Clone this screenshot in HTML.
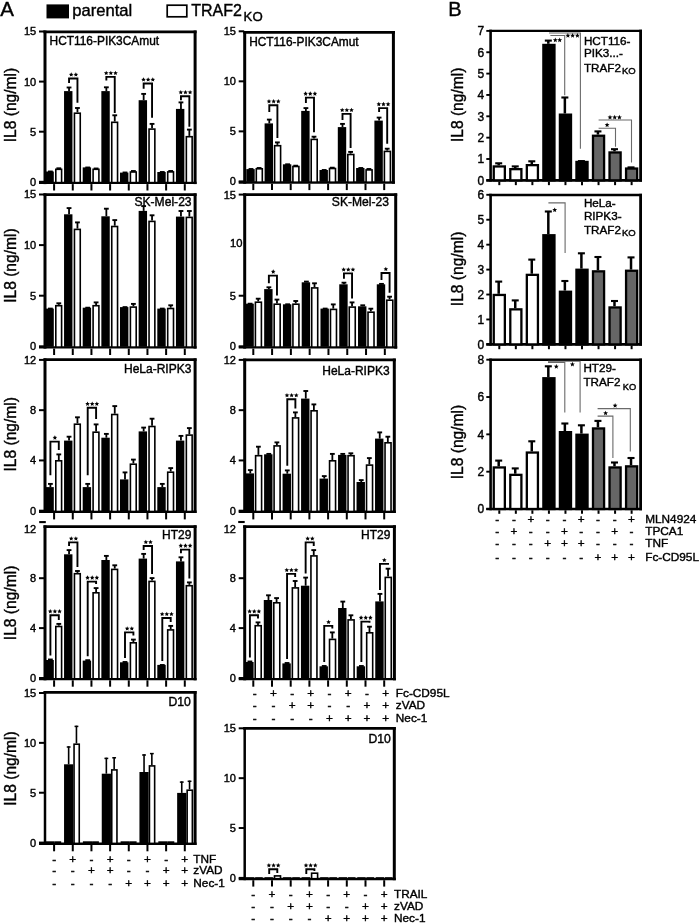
<!DOCTYPE html>
<html><head><meta charset="utf-8"><style>
html,body{margin:0;padding:0;background:#fff;}
svg{display:block;will-change:transform;}
text{font-family:"Liberation Sans", sans-serif;fill:#000;stroke:#000;stroke-width:0.4px;}
</style></head><body>
<svg width="700" height="923" viewBox="0 0 700 923">
<rect width="700" height="923" fill="#fff"/>
<line x1="45.00" y1="30.50" x2="45.00" y2="184.10" stroke="#000" stroke-width="3"/>
<line x1="43.50" y1="31.80" x2="196.60" y2="31.80" stroke="#000" stroke-width="2.7"/>
<line x1="195.10" y1="30.50" x2="195.10" y2="184.10" stroke="#000" stroke-width="3"/>
<line x1="39.00" y1="182.90" x2="196.60" y2="182.90" stroke="#000" stroke-width="2.4"/>
<line x1="39.00" y1="181.80" x2="44.50" y2="181.80" stroke="#000" stroke-width="2"/>
<text x="36.20" y="185.70" font-size="11" text-anchor="end" font-weight="normal" >0</text>
<line x1="39.00" y1="131.70" x2="44.50" y2="131.70" stroke="#000" stroke-width="2"/>
<text x="36.20" y="135.60" font-size="11" text-anchor="end" font-weight="normal" >5</text>
<line x1="39.00" y1="81.60" x2="44.50" y2="81.60" stroke="#000" stroke-width="2"/>
<text x="36.20" y="85.50" font-size="11" text-anchor="end" font-weight="normal" >10</text>
<line x1="39.00" y1="31.50" x2="44.50" y2="31.50" stroke="#000" stroke-width="2"/>
<text x="36.20" y="35.40" font-size="11" text-anchor="end" font-weight="normal" >15</text>
<line x1="54.10" y1="184.10" x2="54.10" y2="190.50" stroke="#000" stroke-width="2"/>
<line x1="72.77" y1="184.10" x2="72.77" y2="190.50" stroke="#000" stroke-width="2"/>
<line x1="91.44" y1="184.10" x2="91.44" y2="190.50" stroke="#000" stroke-width="2"/>
<line x1="110.11" y1="184.10" x2="110.11" y2="190.50" stroke="#000" stroke-width="2"/>
<line x1="128.78" y1="184.10" x2="128.78" y2="190.50" stroke="#000" stroke-width="2"/>
<line x1="147.45" y1="184.10" x2="147.45" y2="190.50" stroke="#000" stroke-width="2"/>
<line x1="166.12" y1="184.10" x2="166.12" y2="190.50" stroke="#000" stroke-width="2"/>
<line x1="184.79" y1="184.10" x2="184.79" y2="190.50" stroke="#000" stroke-width="2"/>
<rect x="45.40" y="171.50" width="8.40" height="10.80" fill="#000"/>
<line x1="50.40" y1="171.50" x2="50.40" y2="171.50" stroke="#000" stroke-width="1.8"/>
<line x1="48.00" y1="171.50" x2="52.80" y2="171.50" stroke="#000" stroke-width="1.9"/>
<rect x="55.80" y="169.30" width="5.80" height="13.30" fill="#fff" stroke="#000" stroke-width="1.6"/>
<line x1="58.80" y1="168.30" x2="58.80" y2="168.50" stroke="#000" stroke-width="1.8"/>
<line x1="56.40" y1="168.30" x2="61.20" y2="168.30" stroke="#000" stroke-width="1.9"/>
<rect x="64.05" y="91.10" width="8.40" height="91.20" fill="#000"/>
<line x1="69.05" y1="87.50" x2="69.05" y2="91.10" stroke="#000" stroke-width="1.8"/>
<line x1="66.65" y1="87.50" x2="71.45" y2="87.50" stroke="#000" stroke-width="1.9"/>
<rect x="74.45" y="113.20" width="5.80" height="69.40" fill="#fff" stroke="#000" stroke-width="1.6"/>
<line x1="77.45" y1="108.00" x2="77.45" y2="112.40" stroke="#000" stroke-width="1.8"/>
<line x1="75.05" y1="108.00" x2="79.85" y2="108.00" stroke="#000" stroke-width="1.9"/>
<rect x="82.70" y="167.40" width="8.40" height="14.90" fill="#000"/>
<line x1="87.70" y1="167.50" x2="87.70" y2="167.40" stroke="#000" stroke-width="1.8"/>
<line x1="85.30" y1="167.50" x2="90.10" y2="167.50" stroke="#000" stroke-width="1.9"/>
<rect x="93.10" y="169.30" width="5.80" height="13.30" fill="#fff" stroke="#000" stroke-width="1.6"/>
<line x1="96.10" y1="168.50" x2="96.10" y2="168.50" stroke="#000" stroke-width="1.8"/>
<line x1="93.70" y1="168.50" x2="98.50" y2="168.50" stroke="#000" stroke-width="1.9"/>
<rect x="101.35" y="91.10" width="8.40" height="91.20" fill="#000"/>
<line x1="106.35" y1="87.30" x2="106.35" y2="91.10" stroke="#000" stroke-width="1.8"/>
<line x1="103.95" y1="87.30" x2="108.75" y2="87.30" stroke="#000" stroke-width="1.9"/>
<rect x="111.75" y="122.30" width="5.80" height="60.30" fill="#fff" stroke="#000" stroke-width="1.6"/>
<line x1="114.75" y1="115.30" x2="114.75" y2="121.50" stroke="#000" stroke-width="1.8"/>
<line x1="112.35" y1="115.30" x2="117.15" y2="115.30" stroke="#000" stroke-width="1.9"/>
<rect x="120.00" y="172.60" width="8.40" height="9.70" fill="#000"/>
<line x1="125.00" y1="172.50" x2="125.00" y2="172.60" stroke="#000" stroke-width="1.8"/>
<line x1="122.60" y1="172.50" x2="127.40" y2="172.50" stroke="#000" stroke-width="1.9"/>
<rect x="130.40" y="172.00" width="5.80" height="10.60" fill="#fff" stroke="#000" stroke-width="1.6"/>
<line x1="133.40" y1="171.00" x2="133.40" y2="171.20" stroke="#000" stroke-width="1.8"/>
<line x1="131.00" y1="171.00" x2="135.80" y2="171.00" stroke="#000" stroke-width="1.9"/>
<rect x="138.65" y="100.20" width="8.40" height="82.10" fill="#000"/>
<line x1="143.65" y1="93.90" x2="143.65" y2="100.20" stroke="#000" stroke-width="1.8"/>
<line x1="141.25" y1="93.90" x2="146.05" y2="93.90" stroke="#000" stroke-width="1.9"/>
<rect x="149.05" y="129.10" width="5.80" height="53.50" fill="#fff" stroke="#000" stroke-width="1.6"/>
<line x1="152.05" y1="123.90" x2="152.05" y2="128.30" stroke="#000" stroke-width="1.8"/>
<line x1="149.65" y1="123.90" x2="154.45" y2="123.90" stroke="#000" stroke-width="1.9"/>
<rect x="157.30" y="172.00" width="8.40" height="10.30" fill="#000"/>
<line x1="162.30" y1="172.00" x2="162.30" y2="172.00" stroke="#000" stroke-width="1.8"/>
<line x1="159.90" y1="172.00" x2="164.70" y2="172.00" stroke="#000" stroke-width="1.9"/>
<rect x="167.70" y="171.90" width="5.80" height="10.70" fill="#fff" stroke="#000" stroke-width="1.6"/>
<line x1="170.70" y1="171.00" x2="170.70" y2="171.10" stroke="#000" stroke-width="1.8"/>
<line x1="168.30" y1="171.00" x2="173.10" y2="171.00" stroke="#000" stroke-width="1.9"/>
<rect x="175.95" y="108.90" width="8.40" height="73.40" fill="#000"/>
<line x1="180.95" y1="102.40" x2="180.95" y2="108.90" stroke="#000" stroke-width="1.8"/>
<line x1="178.55" y1="102.40" x2="183.35" y2="102.40" stroke="#000" stroke-width="1.9"/>
<rect x="186.35" y="136.70" width="5.80" height="45.90" fill="#fff" stroke="#000" stroke-width="1.6"/>
<line x1="189.35" y1="129.60" x2="189.35" y2="135.90" stroke="#000" stroke-width="1.8"/>
<line x1="186.95" y1="129.60" x2="191.75" y2="129.60" stroke="#000" stroke-width="1.9"/>
<polyline points="69.05,82.90 69.05,78.50 77.45,78.50 77.45,102.70" fill="none" stroke="#000" stroke-width="1.9"/>
<polygon points="71.22,72.26 71.90,73.73 73.51,73.92 72.32,75.01 72.64,76.60 71.22,75.81 69.81,76.60 70.13,75.01 68.94,73.92 70.55,73.73" fill="#000"/>
<polygon points="75.88,72.26 76.55,73.73 78.16,73.92 76.97,75.01 77.29,76.60 75.88,75.81 74.46,76.60 74.78,75.01 73.59,73.92 75.20,73.73" fill="#000"/>
<polyline points="106.35,80.50 106.35,76.90 114.75,76.90 114.75,113.10" fill="none" stroke="#000" stroke-width="1.9"/>
<polygon points="106.20,70.66 106.88,72.13 108.48,72.32 107.30,73.41 107.61,75.00 106.20,74.21 104.79,75.00 105.10,73.41 103.92,72.32 105.52,72.13" fill="#000"/>
<polygon points="110.85,70.66 111.53,72.13 113.13,72.32 111.95,73.41 112.26,75.00 110.85,74.21 109.44,75.00 109.75,73.41 108.57,72.32 110.17,72.13" fill="#000"/>
<polygon points="115.50,70.66 116.18,72.13 117.78,72.32 116.60,73.41 116.91,75.00 115.50,74.21 114.09,75.00 114.40,73.41 113.22,72.32 114.82,72.13" fill="#000"/>
<polyline points="143.65,88.80 143.65,83.50 152.05,83.50 152.05,117.70" fill="none" stroke="#000" stroke-width="1.9"/>
<polygon points="143.50,77.26 144.18,78.73 145.78,78.92 144.60,80.01 144.91,81.60 143.50,80.81 142.09,81.60 142.40,80.01 141.22,78.92 142.82,78.73" fill="#000"/>
<polygon points="148.15,77.26 148.83,78.73 150.43,78.92 149.25,80.01 149.56,81.60 148.15,80.81 146.74,81.60 147.05,80.01 145.87,78.92 147.47,78.73" fill="#000"/>
<polygon points="152.80,77.26 153.48,78.73 155.08,78.92 153.90,80.01 154.21,81.60 152.80,80.81 151.39,81.60 151.70,80.01 150.52,78.92 152.12,78.73" fill="#000"/>
<polyline points="180.95,100.20 180.95,96.20 189.35,96.20 189.35,126.80" fill="none" stroke="#000" stroke-width="1.9"/>
<polygon points="180.80,89.96 181.48,91.43 183.08,91.62 181.90,92.71 182.21,94.30 180.80,93.51 179.39,94.30 179.70,92.71 178.52,91.62 180.12,91.43" fill="#000"/>
<polygon points="185.45,89.96 186.13,91.43 187.73,91.62 186.55,92.71 186.86,94.30 185.45,93.51 184.04,94.30 184.35,92.71 183.17,91.62 184.77,91.43" fill="#000"/>
<polygon points="190.10,89.96 190.78,91.43 192.38,91.62 191.20,92.71 191.51,94.30 190.10,93.51 188.69,94.30 189.00,92.71 187.82,91.62 189.42,91.43" fill="#000"/>
<text x="49.60" y="44.90" font-size="11.9" text-anchor="start" font-weight="normal" >HCT116-PIK3CAmut</text>
<line x1="244.70" y1="31.00" x2="244.70" y2="183.70" stroke="#000" stroke-width="3"/>
<line x1="243.20" y1="32.30" x2="394.90" y2="32.30" stroke="#000" stroke-width="2.7"/>
<line x1="393.40" y1="31.00" x2="393.40" y2="183.70" stroke="#000" stroke-width="3"/>
<line x1="238.70" y1="182.50" x2="394.90" y2="182.50" stroke="#000" stroke-width="2.4"/>
<line x1="238.70" y1="181.40" x2="244.20" y2="181.40" stroke="#000" stroke-width="2"/>
<text x="235.90" y="185.30" font-size="11" text-anchor="end" font-weight="normal" >0</text>
<line x1="238.70" y1="131.37" x2="244.20" y2="131.37" stroke="#000" stroke-width="2"/>
<text x="235.90" y="135.27" font-size="11" text-anchor="end" font-weight="normal" >5</text>
<line x1="238.70" y1="81.33" x2="244.20" y2="81.33" stroke="#000" stroke-width="2"/>
<text x="235.90" y="85.23" font-size="11" text-anchor="end" font-weight="normal" >10</text>
<line x1="238.70" y1="31.30" x2="244.20" y2="31.30" stroke="#000" stroke-width="2"/>
<text x="235.90" y="35.20" font-size="11" text-anchor="end" font-weight="normal" >15</text>
<line x1="253.30" y1="183.70" x2="253.30" y2="190.10" stroke="#000" stroke-width="2"/>
<line x1="272.00" y1="183.70" x2="272.00" y2="190.10" stroke="#000" stroke-width="2"/>
<line x1="290.70" y1="183.70" x2="290.70" y2="190.10" stroke="#000" stroke-width="2"/>
<line x1="309.40" y1="183.70" x2="309.40" y2="190.10" stroke="#000" stroke-width="2"/>
<line x1="328.10" y1="183.70" x2="328.10" y2="190.10" stroke="#000" stroke-width="2"/>
<line x1="346.80" y1="183.70" x2="346.80" y2="190.10" stroke="#000" stroke-width="2"/>
<line x1="365.50" y1="183.70" x2="365.50" y2="190.10" stroke="#000" stroke-width="2"/>
<line x1="384.20" y1="183.70" x2="384.20" y2="190.10" stroke="#000" stroke-width="2"/>
<rect x="246.30" y="169.10" width="8.40" height="12.80" fill="#000"/>
<line x1="251.00" y1="169.00" x2="251.00" y2="169.10" stroke="#000" stroke-width="1.8"/>
<line x1="248.60" y1="169.00" x2="253.40" y2="169.00" stroke="#000" stroke-width="1.9"/>
<rect x="256.30" y="168.80" width="6.00" height="13.40" fill="#fff" stroke="#000" stroke-width="1.6"/>
<line x1="259.10" y1="168.00" x2="259.10" y2="168.00" stroke="#000" stroke-width="1.8"/>
<line x1="256.70" y1="168.00" x2="261.50" y2="168.00" stroke="#000" stroke-width="1.9"/>
<rect x="264.60" y="123.40" width="8.40" height="58.50" fill="#000"/>
<line x1="269.30" y1="119.60" x2="269.30" y2="123.40" stroke="#000" stroke-width="1.8"/>
<line x1="266.90" y1="119.60" x2="271.70" y2="119.60" stroke="#000" stroke-width="1.9"/>
<rect x="274.60" y="145.70" width="6.00" height="36.50" fill="#fff" stroke="#000" stroke-width="1.6"/>
<line x1="277.40" y1="142.40" x2="277.40" y2="144.90" stroke="#000" stroke-width="1.8"/>
<line x1="275.00" y1="142.40" x2="279.80" y2="142.40" stroke="#000" stroke-width="1.9"/>
<rect x="282.90" y="164.30" width="8.40" height="17.60" fill="#000"/>
<line x1="287.60" y1="164.30" x2="287.60" y2="164.30" stroke="#000" stroke-width="1.8"/>
<line x1="285.20" y1="164.30" x2="290.00" y2="164.30" stroke="#000" stroke-width="1.9"/>
<rect x="292.90" y="166.50" width="6.00" height="15.70" fill="#fff" stroke="#000" stroke-width="1.6"/>
<line x1="295.70" y1="165.70" x2="295.70" y2="165.70" stroke="#000" stroke-width="1.8"/>
<line x1="293.30" y1="165.70" x2="298.10" y2="165.70" stroke="#000" stroke-width="1.9"/>
<rect x="301.20" y="110.90" width="8.40" height="71.00" fill="#000"/>
<line x1="305.90" y1="108.10" x2="305.90" y2="110.90" stroke="#000" stroke-width="1.8"/>
<line x1="303.50" y1="108.10" x2="308.30" y2="108.10" stroke="#000" stroke-width="1.9"/>
<rect x="311.20" y="139.40" width="6.00" height="42.80" fill="#fff" stroke="#000" stroke-width="1.6"/>
<line x1="314.00" y1="136.70" x2="314.00" y2="138.60" stroke="#000" stroke-width="1.8"/>
<line x1="311.60" y1="136.70" x2="316.40" y2="136.70" stroke="#000" stroke-width="1.9"/>
<rect x="319.50" y="170.00" width="8.40" height="11.90" fill="#000"/>
<line x1="324.20" y1="170.00" x2="324.20" y2="170.00" stroke="#000" stroke-width="1.8"/>
<line x1="321.80" y1="170.00" x2="326.60" y2="170.00" stroke="#000" stroke-width="1.9"/>
<rect x="329.50" y="168.50" width="6.00" height="13.70" fill="#fff" stroke="#000" stroke-width="1.6"/>
<line x1="332.30" y1="167.70" x2="332.30" y2="167.70" stroke="#000" stroke-width="1.8"/>
<line x1="329.90" y1="167.70" x2="334.70" y2="167.70" stroke="#000" stroke-width="1.9"/>
<rect x="337.80" y="127.10" width="8.40" height="54.80" fill="#000"/>
<line x1="342.50" y1="123.90" x2="342.50" y2="127.10" stroke="#000" stroke-width="1.8"/>
<line x1="340.10" y1="123.90" x2="344.90" y2="123.90" stroke="#000" stroke-width="1.9"/>
<rect x="347.80" y="154.50" width="6.00" height="27.70" fill="#fff" stroke="#000" stroke-width="1.6"/>
<line x1="350.60" y1="151.90" x2="350.60" y2="153.70" stroke="#000" stroke-width="1.8"/>
<line x1="348.20" y1="151.90" x2="353.00" y2="151.90" stroke="#000" stroke-width="1.9"/>
<rect x="356.10" y="168.00" width="8.40" height="13.90" fill="#000"/>
<line x1="360.80" y1="168.00" x2="360.80" y2="168.00" stroke="#000" stroke-width="1.8"/>
<line x1="358.40" y1="168.00" x2="363.20" y2="168.00" stroke="#000" stroke-width="1.9"/>
<rect x="366.10" y="169.90" width="6.00" height="12.30" fill="#fff" stroke="#000" stroke-width="1.6"/>
<line x1="368.90" y1="169.00" x2="368.90" y2="169.10" stroke="#000" stroke-width="1.8"/>
<line x1="366.50" y1="169.00" x2="371.30" y2="169.00" stroke="#000" stroke-width="1.9"/>
<rect x="374.40" y="120.60" width="8.40" height="61.30" fill="#000"/>
<line x1="379.10" y1="117.60" x2="379.10" y2="120.60" stroke="#000" stroke-width="1.8"/>
<line x1="376.70" y1="117.60" x2="381.50" y2="117.60" stroke="#000" stroke-width="1.9"/>
<rect x="384.40" y="151.40" width="6.00" height="30.80" fill="#fff" stroke="#000" stroke-width="1.6"/>
<line x1="387.20" y1="148.70" x2="387.20" y2="150.60" stroke="#000" stroke-width="1.8"/>
<line x1="384.80" y1="148.70" x2="389.60" y2="148.70" stroke="#000" stroke-width="1.9"/>
<polyline points="269.30,112.00 269.30,105.30 277.40,105.30 277.40,138.00" fill="none" stroke="#000" stroke-width="1.9"/>
<polygon points="269.00,99.06 269.68,100.53 271.28,100.72 270.10,101.81 270.41,103.40 269.00,102.61 267.59,103.40 267.90,101.81 266.72,100.72 268.32,100.53" fill="#000"/>
<polygon points="273.65,99.06 274.33,100.53 275.93,100.72 274.75,101.81 275.06,103.40 273.65,102.61 272.24,103.40 272.55,101.81 271.37,100.72 272.97,100.53" fill="#000"/>
<polygon points="278.30,99.06 278.98,100.53 280.58,100.72 279.40,101.81 279.71,103.40 278.30,102.61 276.89,103.40 277.20,101.81 276.02,100.72 277.62,100.53" fill="#000"/>
<polyline points="305.90,102.90 305.90,97.60 314.00,97.60 314.00,132.30" fill="none" stroke="#000" stroke-width="1.9"/>
<polygon points="305.60,91.36 306.28,92.83 307.88,93.02 306.70,94.11 307.01,95.70 305.60,94.91 304.19,95.70 304.50,94.11 303.32,93.02 304.92,92.83" fill="#000"/>
<polygon points="310.25,91.36 310.93,92.83 312.53,93.02 311.35,94.11 311.66,95.70 310.25,94.91 308.84,95.70 309.15,94.11 307.97,93.02 309.57,92.83" fill="#000"/>
<polygon points="314.90,91.36 315.58,92.83 317.18,93.02 316.00,94.11 316.31,95.70 314.90,94.91 313.49,95.70 313.80,94.11 312.62,93.02 314.22,92.83" fill="#000"/>
<polyline points="342.50,120.00 342.50,113.90 350.60,113.90 350.60,148.00" fill="none" stroke="#000" stroke-width="1.9"/>
<polygon points="342.20,107.66 342.88,109.13 344.48,109.32 343.30,110.41 343.61,112.00 342.20,111.21 340.79,112.00 341.10,110.41 339.92,109.32 341.52,109.13" fill="#000"/>
<polygon points="346.85,107.66 347.53,109.13 349.13,109.32 347.95,110.41 348.26,112.00 346.85,111.21 345.44,112.00 345.75,110.41 344.57,109.32 346.17,109.13" fill="#000"/>
<polygon points="351.50,107.66 352.18,109.13 353.78,109.32 352.60,110.41 352.91,112.00 351.50,111.21 350.09,112.00 350.40,110.41 349.22,109.32 350.82,109.13" fill="#000"/>
<polyline points="379.10,112.00 379.10,108.10 387.20,108.10 387.20,143.70" fill="none" stroke="#000" stroke-width="1.9"/>
<polygon points="378.80,101.86 379.48,103.33 381.08,103.52 379.90,104.61 380.21,106.20 378.80,105.41 377.39,106.20 377.70,104.61 376.52,103.52 378.12,103.33" fill="#000"/>
<polygon points="383.45,101.86 384.13,103.33 385.73,103.52 384.55,104.61 384.86,106.20 383.45,105.41 382.04,106.20 382.35,104.61 381.17,103.52 382.77,103.33" fill="#000"/>
<polygon points="388.10,101.86 388.78,103.33 390.38,103.52 389.20,104.61 389.51,106.20 388.10,105.41 386.69,106.20 387.00,104.61 385.82,103.52 387.42,103.33" fill="#000"/>
<text x="249.20" y="45.70" font-size="11.9" text-anchor="start" font-weight="normal" >HCT116-PIK3CAmut</text>
<line x1="45.00" y1="193.40" x2="45.00" y2="348.60" stroke="#000" stroke-width="3"/>
<line x1="43.50" y1="194.70" x2="196.60" y2="194.70" stroke="#000" stroke-width="2.7"/>
<line x1="195.10" y1="193.40" x2="195.10" y2="348.60" stroke="#000" stroke-width="3"/>
<line x1="39.00" y1="347.40" x2="196.60" y2="347.40" stroke="#000" stroke-width="2.4"/>
<line x1="39.00" y1="346.30" x2="44.50" y2="346.30" stroke="#000" stroke-width="2"/>
<text x="36.20" y="350.20" font-size="11" text-anchor="end" font-weight="normal" >0</text>
<line x1="39.00" y1="295.70" x2="44.50" y2="295.70" stroke="#000" stroke-width="2"/>
<text x="36.20" y="299.60" font-size="11" text-anchor="end" font-weight="normal" >5</text>
<line x1="39.00" y1="245.10" x2="44.50" y2="245.10" stroke="#000" stroke-width="2"/>
<text x="36.20" y="249.00" font-size="11" text-anchor="end" font-weight="normal" >10</text>
<line x1="39.00" y1="194.50" x2="44.50" y2="194.50" stroke="#000" stroke-width="2"/>
<text x="36.20" y="198.40" font-size="11" text-anchor="end" font-weight="normal" >15</text>
<line x1="54.10" y1="348.60" x2="54.10" y2="355.00" stroke="#000" stroke-width="2"/>
<line x1="72.77" y1="348.60" x2="72.77" y2="355.00" stroke="#000" stroke-width="2"/>
<line x1="91.44" y1="348.60" x2="91.44" y2="355.00" stroke="#000" stroke-width="2"/>
<line x1="110.11" y1="348.60" x2="110.11" y2="355.00" stroke="#000" stroke-width="2"/>
<line x1="128.78" y1="348.60" x2="128.78" y2="355.00" stroke="#000" stroke-width="2"/>
<line x1="147.45" y1="348.60" x2="147.45" y2="355.00" stroke="#000" stroke-width="2"/>
<line x1="166.12" y1="348.60" x2="166.12" y2="355.00" stroke="#000" stroke-width="2"/>
<line x1="184.79" y1="348.60" x2="184.79" y2="355.00" stroke="#000" stroke-width="2"/>
<rect x="45.40" y="308.60" width="8.40" height="38.20" fill="#000"/>
<line x1="50.40" y1="308.60" x2="50.40" y2="308.60" stroke="#000" stroke-width="1.8"/>
<line x1="48.00" y1="308.60" x2="52.80" y2="308.60" stroke="#000" stroke-width="1.9"/>
<rect x="55.80" y="305.70" width="5.80" height="41.40" fill="#fff" stroke="#000" stroke-width="1.6"/>
<line x1="58.80" y1="303.30" x2="58.80" y2="304.90" stroke="#000" stroke-width="1.8"/>
<line x1="56.40" y1="303.30" x2="61.20" y2="303.30" stroke="#000" stroke-width="1.9"/>
<rect x="64.05" y="214.30" width="8.40" height="132.50" fill="#000"/>
<line x1="69.05" y1="208.10" x2="69.05" y2="214.30" stroke="#000" stroke-width="1.8"/>
<line x1="66.65" y1="208.10" x2="71.45" y2="208.10" stroke="#000" stroke-width="1.9"/>
<rect x="74.45" y="229.40" width="5.80" height="117.70" fill="#fff" stroke="#000" stroke-width="1.6"/>
<line x1="77.45" y1="222.40" x2="77.45" y2="228.60" stroke="#000" stroke-width="1.8"/>
<line x1="75.05" y1="222.40" x2="79.85" y2="222.40" stroke="#000" stroke-width="1.9"/>
<rect x="82.70" y="307.70" width="8.40" height="39.10" fill="#000"/>
<line x1="87.70" y1="307.70" x2="87.70" y2="307.70" stroke="#000" stroke-width="1.8"/>
<line x1="85.30" y1="307.70" x2="90.10" y2="307.70" stroke="#000" stroke-width="1.9"/>
<rect x="93.10" y="305.70" width="5.80" height="41.40" fill="#fff" stroke="#000" stroke-width="1.6"/>
<line x1="96.10" y1="302.40" x2="96.10" y2="304.90" stroke="#000" stroke-width="1.8"/>
<line x1="93.70" y1="302.40" x2="98.50" y2="302.40" stroke="#000" stroke-width="1.9"/>
<rect x="101.35" y="216.30" width="8.40" height="130.50" fill="#000"/>
<line x1="106.35" y1="208.70" x2="106.35" y2="216.30" stroke="#000" stroke-width="1.8"/>
<line x1="103.95" y1="208.70" x2="108.75" y2="208.70" stroke="#000" stroke-width="1.9"/>
<rect x="111.75" y="226.50" width="5.80" height="120.60" fill="#fff" stroke="#000" stroke-width="1.6"/>
<line x1="114.75" y1="220.10" x2="114.75" y2="225.70" stroke="#000" stroke-width="1.8"/>
<line x1="112.35" y1="220.10" x2="117.15" y2="220.10" stroke="#000" stroke-width="1.9"/>
<rect x="120.00" y="307.10" width="8.40" height="39.70" fill="#000"/>
<line x1="125.00" y1="307.10" x2="125.00" y2="307.10" stroke="#000" stroke-width="1.8"/>
<line x1="122.60" y1="307.10" x2="127.40" y2="307.10" stroke="#000" stroke-width="1.9"/>
<rect x="130.40" y="307.10" width="5.80" height="40.00" fill="#fff" stroke="#000" stroke-width="1.6"/>
<line x1="133.40" y1="303.90" x2="133.40" y2="306.30" stroke="#000" stroke-width="1.8"/>
<line x1="131.00" y1="303.90" x2="135.80" y2="303.90" stroke="#000" stroke-width="1.9"/>
<rect x="138.65" y="210.90" width="8.40" height="135.90" fill="#000"/>
<line x1="143.65" y1="206.10" x2="143.65" y2="210.90" stroke="#000" stroke-width="1.8"/>
<line x1="141.25" y1="206.10" x2="146.05" y2="206.10" stroke="#000" stroke-width="1.9"/>
<rect x="149.05" y="221.40" width="5.80" height="125.70" fill="#fff" stroke="#000" stroke-width="1.6"/>
<line x1="152.05" y1="215.30" x2="152.05" y2="220.60" stroke="#000" stroke-width="1.8"/>
<line x1="149.65" y1="215.30" x2="154.45" y2="215.30" stroke="#000" stroke-width="1.9"/>
<rect x="157.30" y="308.60" width="8.40" height="38.20" fill="#000"/>
<line x1="162.30" y1="308.60" x2="162.30" y2="308.60" stroke="#000" stroke-width="1.8"/>
<line x1="159.90" y1="308.60" x2="164.70" y2="308.60" stroke="#000" stroke-width="1.9"/>
<rect x="167.70" y="308.50" width="5.80" height="38.60" fill="#fff" stroke="#000" stroke-width="1.6"/>
<line x1="170.70" y1="305.30" x2="170.70" y2="307.70" stroke="#000" stroke-width="1.8"/>
<line x1="168.30" y1="305.30" x2="173.10" y2="305.30" stroke="#000" stroke-width="1.9"/>
<rect x="175.95" y="216.60" width="8.40" height="130.20" fill="#000"/>
<line x1="180.95" y1="211.00" x2="180.95" y2="216.60" stroke="#000" stroke-width="1.8"/>
<line x1="178.55" y1="211.00" x2="183.35" y2="211.00" stroke="#000" stroke-width="1.9"/>
<rect x="186.35" y="217.40" width="5.80" height="129.70" fill="#fff" stroke="#000" stroke-width="1.6"/>
<line x1="189.35" y1="211.00" x2="189.35" y2="216.60" stroke="#000" stroke-width="1.8"/>
<line x1="186.95" y1="211.00" x2="191.75" y2="211.00" stroke="#000" stroke-width="1.9"/>
<text x="191.60" y="205.60" font-size="12.1" text-anchor="end" font-weight="normal" >SK-Mel-23</text>
<line x1="244.70" y1="193.40" x2="244.70" y2="348.60" stroke="#000" stroke-width="3"/>
<line x1="243.20" y1="194.70" x2="397.20" y2="194.70" stroke="#000" stroke-width="2.7"/>
<line x1="395.70" y1="193.40" x2="395.70" y2="348.60" stroke="#000" stroke-width="3"/>
<line x1="238.70" y1="347.40" x2="397.20" y2="347.40" stroke="#000" stroke-width="2.4"/>
<line x1="238.70" y1="346.30" x2="244.20" y2="346.30" stroke="#000" stroke-width="2"/>
<text x="235.90" y="350.20" font-size="11" text-anchor="end" font-weight="normal" >0</text>
<line x1="238.70" y1="295.73" x2="244.20" y2="295.73" stroke="#000" stroke-width="2"/>
<text x="235.90" y="299.63" font-size="11" text-anchor="end" font-weight="normal" >5</text>
<line x1="238.70" y1="194.60" x2="244.20" y2="194.60" stroke="#000" stroke-width="2"/>
<text x="235.90" y="198.50" font-size="11" text-anchor="end" font-weight="normal" >15</text>
<line x1="253.30" y1="348.60" x2="253.30" y2="355.00" stroke="#000" stroke-width="2"/>
<line x1="272.09" y1="348.60" x2="272.09" y2="355.00" stroke="#000" stroke-width="2"/>
<line x1="290.88" y1="348.60" x2="290.88" y2="355.00" stroke="#000" stroke-width="2"/>
<line x1="309.67" y1="348.60" x2="309.67" y2="355.00" stroke="#000" stroke-width="2"/>
<line x1="328.46" y1="348.60" x2="328.46" y2="355.00" stroke="#000" stroke-width="2"/>
<line x1="347.25" y1="348.60" x2="347.25" y2="355.00" stroke="#000" stroke-width="2"/>
<line x1="366.04" y1="348.60" x2="366.04" y2="355.00" stroke="#000" stroke-width="2"/>
<line x1="384.83" y1="348.60" x2="384.83" y2="355.00" stroke="#000" stroke-width="2"/>
<rect x="245.40" y="303.70" width="8.40" height="43.10" fill="#000"/>
<line x1="250.10" y1="303.70" x2="250.10" y2="303.70" stroke="#000" stroke-width="1.8"/>
<line x1="247.70" y1="303.70" x2="252.50" y2="303.70" stroke="#000" stroke-width="1.9"/>
<rect x="255.40" y="302.20" width="6.00" height="44.90" fill="#fff" stroke="#000" stroke-width="1.6"/>
<line x1="258.20" y1="298.70" x2="258.20" y2="301.40" stroke="#000" stroke-width="1.8"/>
<line x1="255.80" y1="298.70" x2="260.60" y2="298.70" stroke="#000" stroke-width="1.9"/>
<rect x="264.17" y="289.10" width="8.40" height="57.70" fill="#000"/>
<line x1="268.87" y1="287.30" x2="268.87" y2="289.10" stroke="#000" stroke-width="1.8"/>
<line x1="266.47" y1="287.30" x2="271.27" y2="287.30" stroke="#000" stroke-width="1.9"/>
<rect x="274.17" y="304.20" width="6.00" height="42.90" fill="#fff" stroke="#000" stroke-width="1.6"/>
<line x1="276.97" y1="299.60" x2="276.97" y2="303.40" stroke="#000" stroke-width="1.8"/>
<line x1="274.57" y1="299.60" x2="279.37" y2="299.60" stroke="#000" stroke-width="1.9"/>
<rect x="282.94" y="304.30" width="8.40" height="42.50" fill="#000"/>
<line x1="287.64" y1="304.30" x2="287.64" y2="304.30" stroke="#000" stroke-width="1.8"/>
<line x1="285.24" y1="304.30" x2="290.04" y2="304.30" stroke="#000" stroke-width="1.9"/>
<rect x="292.94" y="304.20" width="6.00" height="42.90" fill="#fff" stroke="#000" stroke-width="1.6"/>
<line x1="295.74" y1="301.00" x2="295.74" y2="303.40" stroke="#000" stroke-width="1.8"/>
<line x1="293.34" y1="301.00" x2="298.14" y2="301.00" stroke="#000" stroke-width="1.9"/>
<rect x="301.71" y="282.30" width="8.40" height="64.50" fill="#000"/>
<line x1="306.41" y1="281.60" x2="306.41" y2="282.30" stroke="#000" stroke-width="1.8"/>
<line x1="304.01" y1="281.60" x2="308.81" y2="281.60" stroke="#000" stroke-width="1.9"/>
<rect x="311.71" y="287.90" width="6.00" height="59.20" fill="#fff" stroke="#000" stroke-width="1.6"/>
<line x1="314.51" y1="283.30" x2="314.51" y2="287.10" stroke="#000" stroke-width="1.8"/>
<line x1="312.11" y1="283.30" x2="316.91" y2="283.30" stroke="#000" stroke-width="1.9"/>
<rect x="320.48" y="308.60" width="8.40" height="38.20" fill="#000"/>
<line x1="325.18" y1="308.60" x2="325.18" y2="308.60" stroke="#000" stroke-width="1.8"/>
<line x1="322.78" y1="308.60" x2="327.58" y2="308.60" stroke="#000" stroke-width="1.9"/>
<rect x="330.48" y="309.40" width="6.00" height="37.70" fill="#fff" stroke="#000" stroke-width="1.6"/>
<line x1="333.28" y1="304.40" x2="333.28" y2="308.60" stroke="#000" stroke-width="1.8"/>
<line x1="330.88" y1="304.40" x2="335.68" y2="304.40" stroke="#000" stroke-width="1.9"/>
<rect x="339.25" y="284.30" width="8.40" height="62.50" fill="#000"/>
<line x1="343.95" y1="282.70" x2="343.95" y2="284.30" stroke="#000" stroke-width="1.8"/>
<line x1="341.55" y1="282.70" x2="346.35" y2="282.70" stroke="#000" stroke-width="1.9"/>
<rect x="349.25" y="307.10" width="6.00" height="40.00" fill="#fff" stroke="#000" stroke-width="1.6"/>
<line x1="352.05" y1="302.40" x2="352.05" y2="306.30" stroke="#000" stroke-width="1.8"/>
<line x1="349.65" y1="302.40" x2="354.45" y2="302.40" stroke="#000" stroke-width="1.9"/>
<rect x="358.02" y="306.30" width="8.40" height="40.50" fill="#000"/>
<line x1="362.72" y1="305.30" x2="362.72" y2="306.30" stroke="#000" stroke-width="1.8"/>
<line x1="360.32" y1="305.30" x2="365.12" y2="305.30" stroke="#000" stroke-width="1.9"/>
<rect x="368.02" y="312.20" width="6.00" height="34.90" fill="#fff" stroke="#000" stroke-width="1.6"/>
<line x1="370.82" y1="308.70" x2="370.82" y2="311.40" stroke="#000" stroke-width="1.8"/>
<line x1="368.42" y1="308.70" x2="373.22" y2="308.70" stroke="#000" stroke-width="1.9"/>
<rect x="376.79" y="284.30" width="8.40" height="62.50" fill="#000"/>
<line x1="381.49" y1="283.90" x2="381.49" y2="284.30" stroke="#000" stroke-width="1.8"/>
<line x1="379.09" y1="283.90" x2="383.89" y2="283.90" stroke="#000" stroke-width="1.9"/>
<rect x="386.79" y="300.20" width="6.00" height="46.90" fill="#fff" stroke="#000" stroke-width="1.6"/>
<line x1="389.59" y1="296.70" x2="389.59" y2="299.40" stroke="#000" stroke-width="1.8"/>
<line x1="387.19" y1="296.70" x2="391.99" y2="296.70" stroke="#000" stroke-width="1.9"/>
<polyline points="268.87,283.30 268.87,275.60 276.97,275.60 276.97,295.60" fill="none" stroke="#000" stroke-width="1.9"/>
<polygon points="273.22,269.36 273.90,270.83 275.50,271.02 274.32,272.11 274.63,273.70 273.22,272.91 271.81,273.70 272.12,272.11 270.94,271.02 272.54,270.83" fill="#000"/>
<polyline points="343.95,278.70 343.95,273.40 352.05,273.40 352.05,298.40" fill="none" stroke="#000" stroke-width="1.9"/>
<polygon points="343.65,267.16 344.33,268.63 345.93,268.82 344.75,269.91 345.06,271.50 343.65,270.71 342.24,271.50 342.55,269.91 341.37,268.82 342.97,268.63" fill="#000"/>
<polygon points="348.30,267.16 348.98,268.63 350.58,268.82 349.40,269.91 349.71,271.50 348.30,270.71 346.89,271.50 347.20,269.91 346.02,268.82 347.62,268.63" fill="#000"/>
<polygon points="352.95,267.16 353.63,268.63 355.23,268.82 354.05,269.91 354.36,271.50 352.95,270.71 351.54,271.50 351.85,269.91 350.67,268.82 352.27,268.63" fill="#000"/>
<polyline points="381.49,279.90 381.49,273.00 389.59,273.00 389.59,292.70" fill="none" stroke="#000" stroke-width="1.9"/>
<polygon points="385.84,266.76 386.52,268.23 388.12,268.42 386.94,269.51 387.25,271.10 385.84,270.31 384.43,271.10 384.74,269.51 383.56,268.42 385.16,268.23" fill="#000"/>
<text x="389.00" y="206.30" font-size="12.1" text-anchor="end" font-weight="normal" >SK-Mel-23</text>
<text x="242.40" y="246.90" font-size="11.2" text-anchor="end" font-weight="normal" >10</text>
<line x1="45.00" y1="358.40" x2="45.00" y2="513.00" stroke="#000" stroke-width="3"/>
<line x1="43.50" y1="359.70" x2="196.60" y2="359.70" stroke="#000" stroke-width="2.7"/>
<line x1="195.10" y1="358.40" x2="195.10" y2="513.00" stroke="#000" stroke-width="3"/>
<line x1="39.00" y1="511.80" x2="196.60" y2="511.80" stroke="#000" stroke-width="2.4"/>
<line x1="39.00" y1="510.70" x2="44.50" y2="510.70" stroke="#000" stroke-width="2"/>
<text x="36.20" y="514.60" font-size="11" text-anchor="end" font-weight="normal" >0</text>
<line x1="39.00" y1="460.43" x2="44.50" y2="460.43" stroke="#000" stroke-width="2"/>
<text x="36.20" y="464.33" font-size="11" text-anchor="end" font-weight="normal" >4</text>
<line x1="39.00" y1="410.17" x2="44.50" y2="410.17" stroke="#000" stroke-width="2"/>
<text x="36.20" y="414.07" font-size="11" text-anchor="end" font-weight="normal" >8</text>
<line x1="39.00" y1="359.90" x2="44.50" y2="359.90" stroke="#000" stroke-width="2"/>
<text x="36.20" y="363.80" font-size="11" text-anchor="end" font-weight="normal" >12</text>
<line x1="54.10" y1="513.00" x2="54.10" y2="519.40" stroke="#000" stroke-width="2"/>
<line x1="72.77" y1="513.00" x2="72.77" y2="519.40" stroke="#000" stroke-width="2"/>
<line x1="91.44" y1="513.00" x2="91.44" y2="519.40" stroke="#000" stroke-width="2"/>
<line x1="110.11" y1="513.00" x2="110.11" y2="519.40" stroke="#000" stroke-width="2"/>
<line x1="128.78" y1="513.00" x2="128.78" y2="519.40" stroke="#000" stroke-width="2"/>
<line x1="147.45" y1="513.00" x2="147.45" y2="519.40" stroke="#000" stroke-width="2"/>
<line x1="166.12" y1="513.00" x2="166.12" y2="519.40" stroke="#000" stroke-width="2"/>
<line x1="184.79" y1="513.00" x2="184.79" y2="519.40" stroke="#000" stroke-width="2"/>
<rect x="45.40" y="487.10" width="8.40" height="24.10" fill="#000"/>
<line x1="50.40" y1="483.90" x2="50.40" y2="487.10" stroke="#000" stroke-width="1.8"/>
<line x1="48.00" y1="483.90" x2="52.80" y2="483.90" stroke="#000" stroke-width="1.9"/>
<rect x="55.80" y="460.80" width="5.80" height="50.70" fill="#fff" stroke="#000" stroke-width="1.6"/>
<line x1="58.80" y1="454.40" x2="58.80" y2="460.00" stroke="#000" stroke-width="1.8"/>
<line x1="56.40" y1="454.40" x2="61.20" y2="454.40" stroke="#000" stroke-width="1.9"/>
<rect x="64.05" y="440.60" width="8.40" height="70.60" fill="#000"/>
<line x1="69.05" y1="436.70" x2="69.05" y2="440.60" stroke="#000" stroke-width="1.8"/>
<line x1="66.65" y1="436.70" x2="71.45" y2="436.70" stroke="#000" stroke-width="1.9"/>
<rect x="74.45" y="424.20" width="5.80" height="87.30" fill="#fff" stroke="#000" stroke-width="1.6"/>
<line x1="77.45" y1="417.30" x2="77.45" y2="423.40" stroke="#000" stroke-width="1.8"/>
<line x1="75.05" y1="417.30" x2="79.85" y2="417.30" stroke="#000" stroke-width="1.9"/>
<rect x="82.70" y="487.10" width="8.40" height="24.10" fill="#000"/>
<line x1="87.70" y1="483.90" x2="87.70" y2="487.10" stroke="#000" stroke-width="1.8"/>
<line x1="85.30" y1="483.90" x2="90.10" y2="483.90" stroke="#000" stroke-width="1.9"/>
<rect x="93.10" y="432.20" width="5.80" height="79.30" fill="#fff" stroke="#000" stroke-width="1.6"/>
<line x1="96.10" y1="424.40" x2="96.10" y2="431.40" stroke="#000" stroke-width="1.8"/>
<line x1="93.70" y1="424.40" x2="98.50" y2="424.40" stroke="#000" stroke-width="1.9"/>
<rect x="101.35" y="437.70" width="8.40" height="73.50" fill="#000"/>
<line x1="106.35" y1="433.90" x2="106.35" y2="437.70" stroke="#000" stroke-width="1.8"/>
<line x1="103.95" y1="433.90" x2="108.75" y2="433.90" stroke="#000" stroke-width="1.9"/>
<rect x="111.75" y="414.50" width="5.80" height="97.00" fill="#fff" stroke="#000" stroke-width="1.6"/>
<line x1="114.75" y1="406.10" x2="114.75" y2="413.70" stroke="#000" stroke-width="1.8"/>
<line x1="112.35" y1="406.10" x2="117.15" y2="406.10" stroke="#000" stroke-width="1.9"/>
<rect x="120.00" y="479.40" width="8.40" height="31.80" fill="#000"/>
<line x1="125.00" y1="472.40" x2="125.00" y2="479.40" stroke="#000" stroke-width="1.8"/>
<line x1="122.60" y1="472.40" x2="127.40" y2="472.40" stroke="#000" stroke-width="1.9"/>
<rect x="130.40" y="464.20" width="5.80" height="47.30" fill="#fff" stroke="#000" stroke-width="1.6"/>
<line x1="133.40" y1="459.60" x2="133.40" y2="463.40" stroke="#000" stroke-width="1.8"/>
<line x1="131.00" y1="459.60" x2="135.80" y2="459.60" stroke="#000" stroke-width="1.9"/>
<rect x="138.65" y="431.40" width="8.40" height="79.80" fill="#000"/>
<line x1="143.65" y1="427.60" x2="143.65" y2="431.40" stroke="#000" stroke-width="1.8"/>
<line x1="141.25" y1="427.60" x2="146.05" y2="427.60" stroke="#000" stroke-width="1.9"/>
<rect x="149.05" y="426.50" width="5.80" height="85.00" fill="#fff" stroke="#000" stroke-width="1.6"/>
<line x1="152.05" y1="418.70" x2="152.05" y2="425.70" stroke="#000" stroke-width="1.8"/>
<line x1="149.65" y1="418.70" x2="154.45" y2="418.70" stroke="#000" stroke-width="1.9"/>
<rect x="157.30" y="487.10" width="8.40" height="24.10" fill="#000"/>
<line x1="162.30" y1="483.90" x2="162.30" y2="487.10" stroke="#000" stroke-width="1.8"/>
<line x1="159.90" y1="483.90" x2="164.70" y2="483.90" stroke="#000" stroke-width="1.9"/>
<rect x="167.70" y="472.20" width="5.80" height="39.30" fill="#fff" stroke="#000" stroke-width="1.6"/>
<line x1="170.70" y1="468.10" x2="170.70" y2="471.40" stroke="#000" stroke-width="1.8"/>
<line x1="168.30" y1="468.10" x2="173.10" y2="468.10" stroke="#000" stroke-width="1.9"/>
<rect x="175.95" y="440.60" width="8.40" height="70.60" fill="#000"/>
<line x1="180.95" y1="435.90" x2="180.95" y2="440.60" stroke="#000" stroke-width="1.8"/>
<line x1="178.55" y1="435.90" x2="183.35" y2="435.90" stroke="#000" stroke-width="1.9"/>
<rect x="186.35" y="435.10" width="5.80" height="76.40" fill="#fff" stroke="#000" stroke-width="1.6"/>
<line x1="189.35" y1="428.10" x2="189.35" y2="434.30" stroke="#000" stroke-width="1.8"/>
<line x1="186.95" y1="428.10" x2="191.75" y2="428.10" stroke="#000" stroke-width="1.9"/>
<polyline points="50.40,475.30 50.40,441.60 58.80,441.60 58.80,450.00" fill="none" stroke="#000" stroke-width="1.9"/>
<polygon points="54.90,435.36 55.58,436.83 57.18,437.02 56.00,438.11 56.31,439.70 54.90,438.91 53.49,439.70 53.80,438.11 52.62,437.02 54.22,436.83" fill="#000"/>
<polyline points="87.70,475.30 87.70,407.80 96.10,407.80 96.10,419.10" fill="none" stroke="#000" stroke-width="1.9"/>
<polygon points="87.55,401.56 88.23,403.03 89.83,403.22 88.65,404.31 88.96,405.90 87.55,405.11 86.14,405.90 86.45,404.31 85.27,403.22 86.87,403.03" fill="#000"/>
<polygon points="92.20,401.56 92.88,403.03 94.48,403.22 93.30,404.31 93.61,405.90 92.20,405.11 90.79,405.90 91.10,404.31 89.92,403.22 91.52,403.03" fill="#000"/>
<polygon points="96.85,401.56 97.53,403.03 99.13,403.22 97.95,404.31 98.26,405.90 96.85,405.11 95.44,405.90 95.75,404.31 94.57,403.22 96.17,403.03" fill="#000"/>
<text x="191.40" y="373.30" font-size="12" text-anchor="end" font-weight="normal" >HeLa-RIPK3</text>
<line x1="244.70" y1="358.60" x2="244.70" y2="513.00" stroke="#000" stroke-width="3"/>
<line x1="243.20" y1="359.90" x2="395.80" y2="359.90" stroke="#000" stroke-width="2.7"/>
<line x1="394.30" y1="358.60" x2="394.30" y2="513.00" stroke="#000" stroke-width="3"/>
<line x1="238.70" y1="511.80" x2="395.80" y2="511.80" stroke="#000" stroke-width="2.4"/>
<line x1="238.70" y1="510.70" x2="244.20" y2="510.70" stroke="#000" stroke-width="2"/>
<text x="235.90" y="514.60" font-size="11" text-anchor="end" font-weight="normal" >0</text>
<line x1="238.70" y1="460.43" x2="244.20" y2="460.43" stroke="#000" stroke-width="2"/>
<text x="235.90" y="464.33" font-size="11" text-anchor="end" font-weight="normal" >4</text>
<line x1="238.70" y1="410.17" x2="244.20" y2="410.17" stroke="#000" stroke-width="2"/>
<text x="235.90" y="414.07" font-size="11" text-anchor="end" font-weight="normal" >8</text>
<line x1="238.70" y1="359.90" x2="244.20" y2="359.90" stroke="#000" stroke-width="2"/>
<text x="235.90" y="363.80" font-size="11" text-anchor="end" font-weight="normal" >12</text>
<line x1="253.30" y1="513.00" x2="253.30" y2="519.40" stroke="#000" stroke-width="2"/>
<line x1="272.00" y1="513.00" x2="272.00" y2="519.40" stroke="#000" stroke-width="2"/>
<line x1="290.70" y1="513.00" x2="290.70" y2="519.40" stroke="#000" stroke-width="2"/>
<line x1="309.40" y1="513.00" x2="309.40" y2="519.40" stroke="#000" stroke-width="2"/>
<line x1="328.10" y1="513.00" x2="328.10" y2="519.40" stroke="#000" stroke-width="2"/>
<line x1="346.80" y1="513.00" x2="346.80" y2="519.40" stroke="#000" stroke-width="2"/>
<line x1="365.50" y1="513.00" x2="365.50" y2="519.40" stroke="#000" stroke-width="2"/>
<line x1="384.20" y1="513.00" x2="384.20" y2="519.40" stroke="#000" stroke-width="2"/>
<rect x="245.60" y="473.40" width="8.40" height="37.80" fill="#000"/>
<line x1="250.30" y1="470.10" x2="250.30" y2="473.40" stroke="#000" stroke-width="1.8"/>
<line x1="247.90" y1="470.10" x2="252.70" y2="470.10" stroke="#000" stroke-width="1.9"/>
<rect x="255.60" y="455.70" width="6.00" height="55.80" fill="#fff" stroke="#000" stroke-width="1.6"/>
<line x1="258.40" y1="446.70" x2="258.40" y2="454.90" stroke="#000" stroke-width="1.8"/>
<line x1="256.00" y1="446.70" x2="260.80" y2="446.70" stroke="#000" stroke-width="1.9"/>
<rect x="264.09" y="454.30" width="8.40" height="56.90" fill="#000"/>
<line x1="268.79" y1="453.90" x2="268.79" y2="454.30" stroke="#000" stroke-width="1.8"/>
<line x1="266.39" y1="453.90" x2="271.19" y2="453.90" stroke="#000" stroke-width="1.9"/>
<rect x="274.09" y="445.90" width="6.00" height="65.60" fill="#fff" stroke="#000" stroke-width="1.6"/>
<line x1="276.89" y1="442.40" x2="276.89" y2="445.10" stroke="#000" stroke-width="1.8"/>
<line x1="274.49" y1="442.40" x2="279.29" y2="442.40" stroke="#000" stroke-width="1.9"/>
<rect x="282.58" y="473.70" width="8.40" height="37.50" fill="#000"/>
<line x1="287.28" y1="470.40" x2="287.28" y2="473.70" stroke="#000" stroke-width="1.8"/>
<line x1="284.88" y1="470.40" x2="289.68" y2="470.40" stroke="#000" stroke-width="1.9"/>
<rect x="292.58" y="417.90" width="6.00" height="93.60" fill="#fff" stroke="#000" stroke-width="1.6"/>
<line x1="295.38" y1="412.40" x2="295.38" y2="417.10" stroke="#000" stroke-width="1.8"/>
<line x1="292.98" y1="412.40" x2="297.78" y2="412.40" stroke="#000" stroke-width="1.9"/>
<rect x="301.07" y="398.60" width="8.40" height="112.60" fill="#000"/>
<line x1="305.77" y1="391.00" x2="305.77" y2="398.60" stroke="#000" stroke-width="1.8"/>
<line x1="303.37" y1="391.00" x2="308.17" y2="391.00" stroke="#000" stroke-width="1.9"/>
<rect x="311.07" y="410.80" width="6.00" height="100.70" fill="#fff" stroke="#000" stroke-width="1.6"/>
<line x1="313.87" y1="404.40" x2="313.87" y2="410.00" stroke="#000" stroke-width="1.8"/>
<line x1="311.47" y1="404.40" x2="316.27" y2="404.40" stroke="#000" stroke-width="1.9"/>
<rect x="319.56" y="478.60" width="8.40" height="32.60" fill="#000"/>
<line x1="324.26" y1="476.10" x2="324.26" y2="478.60" stroke="#000" stroke-width="1.8"/>
<line x1="321.86" y1="476.10" x2="326.66" y2="476.10" stroke="#000" stroke-width="1.9"/>
<rect x="329.56" y="460.80" width="6.00" height="50.70" fill="#fff" stroke="#000" stroke-width="1.6"/>
<line x1="332.36" y1="453.90" x2="332.36" y2="460.00" stroke="#000" stroke-width="1.8"/>
<line x1="329.96" y1="453.90" x2="334.76" y2="453.90" stroke="#000" stroke-width="1.9"/>
<rect x="338.05" y="454.90" width="8.40" height="56.30" fill="#000"/>
<line x1="342.75" y1="453.90" x2="342.75" y2="454.90" stroke="#000" stroke-width="1.8"/>
<line x1="340.35" y1="453.90" x2="345.15" y2="453.90" stroke="#000" stroke-width="1.9"/>
<rect x="348.05" y="455.70" width="6.00" height="55.80" fill="#fff" stroke="#000" stroke-width="1.6"/>
<line x1="350.85" y1="453.30" x2="350.85" y2="454.90" stroke="#000" stroke-width="1.8"/>
<line x1="348.45" y1="453.30" x2="353.25" y2="453.30" stroke="#000" stroke-width="1.9"/>
<rect x="356.54" y="482.00" width="8.40" height="29.20" fill="#000"/>
<line x1="361.24" y1="480.10" x2="361.24" y2="482.00" stroke="#000" stroke-width="1.8"/>
<line x1="358.84" y1="480.10" x2="363.64" y2="480.10" stroke="#000" stroke-width="1.9"/>
<rect x="366.54" y="465.10" width="6.00" height="46.40" fill="#fff" stroke="#000" stroke-width="1.6"/>
<line x1="369.34" y1="458.10" x2="369.34" y2="464.30" stroke="#000" stroke-width="1.8"/>
<line x1="366.94" y1="458.10" x2="371.74" y2="458.10" stroke="#000" stroke-width="1.9"/>
<rect x="375.03" y="438.60" width="8.40" height="72.60" fill="#000"/>
<line x1="379.73" y1="432.40" x2="379.73" y2="438.60" stroke="#000" stroke-width="1.8"/>
<line x1="377.33" y1="432.40" x2="382.13" y2="432.40" stroke="#000" stroke-width="1.9"/>
<rect x="385.03" y="442.80" width="6.00" height="68.70" fill="#fff" stroke="#000" stroke-width="1.6"/>
<line x1="387.83" y1="436.70" x2="387.83" y2="442.00" stroke="#000" stroke-width="1.8"/>
<line x1="385.43" y1="436.70" x2="390.23" y2="436.70" stroke="#000" stroke-width="1.9"/>
<polyline points="287.28,465.70 287.28,399.20 295.38,399.20 295.38,408.60" fill="none" stroke="#000" stroke-width="1.9"/>
<polygon points="286.98,392.96 287.66,394.43 289.26,394.62 288.08,395.71 288.39,397.30 286.98,396.51 285.57,397.30 285.88,395.71 284.70,394.62 286.30,394.43" fill="#000"/>
<polygon points="291.63,392.96 292.31,394.43 293.91,394.62 292.73,395.71 293.04,397.30 291.63,396.51 290.22,397.30 290.53,395.71 289.35,394.62 290.95,394.43" fill="#000"/>
<polygon points="296.28,392.96 296.96,394.43 298.56,394.62 297.38,395.71 297.69,397.30 296.28,396.51 294.87,397.30 295.18,395.71 294.00,394.62 295.60,394.43" fill="#000"/>
<text x="389.60" y="374.90" font-size="12" text-anchor="end" font-weight="normal" >HeLa-RIPK3</text>
<line x1="45.00" y1="525.30" x2="45.00" y2="680.30" stroke="#000" stroke-width="3"/>
<line x1="43.50" y1="526.60" x2="196.60" y2="526.60" stroke="#000" stroke-width="2.7"/>
<line x1="195.10" y1="525.30" x2="195.10" y2="680.30" stroke="#000" stroke-width="3"/>
<line x1="39.00" y1="679.10" x2="196.60" y2="679.10" stroke="#000" stroke-width="2.4"/>
<line x1="39.00" y1="678.00" x2="44.50" y2="678.00" stroke="#000" stroke-width="2"/>
<text x="36.20" y="681.90" font-size="11" text-anchor="end" font-weight="normal" >0</text>
<line x1="39.00" y1="628.10" x2="44.50" y2="628.10" stroke="#000" stroke-width="2"/>
<text x="36.20" y="632.00" font-size="11" text-anchor="end" font-weight="normal" >4</text>
<line x1="39.00" y1="578.20" x2="44.50" y2="578.20" stroke="#000" stroke-width="2"/>
<text x="36.20" y="582.10" font-size="11" text-anchor="end" font-weight="normal" >8</text>
<text x="36.20" y="533.40" font-size="11" text-anchor="end" font-weight="normal" >12</text>
<line x1="54.10" y1="680.30" x2="54.10" y2="686.70" stroke="#000" stroke-width="2"/>
<line x1="72.77" y1="680.30" x2="72.77" y2="686.70" stroke="#000" stroke-width="2"/>
<line x1="91.44" y1="680.30" x2="91.44" y2="686.70" stroke="#000" stroke-width="2"/>
<line x1="110.11" y1="680.30" x2="110.11" y2="686.70" stroke="#000" stroke-width="2"/>
<line x1="128.78" y1="680.30" x2="128.78" y2="686.70" stroke="#000" stroke-width="2"/>
<line x1="147.45" y1="680.30" x2="147.45" y2="686.70" stroke="#000" stroke-width="2"/>
<line x1="166.12" y1="680.30" x2="166.12" y2="686.70" stroke="#000" stroke-width="2"/>
<line x1="184.79" y1="680.30" x2="184.79" y2="686.70" stroke="#000" stroke-width="2"/>
<rect x="45.40" y="660.00" width="8.40" height="18.50" fill="#000"/>
<line x1="50.40" y1="659.50" x2="50.40" y2="660.00" stroke="#000" stroke-width="1.8"/>
<line x1="48.00" y1="659.50" x2="52.80" y2="659.50" stroke="#000" stroke-width="1.9"/>
<rect x="55.80" y="626.50" width="5.80" height="52.30" fill="#fff" stroke="#000" stroke-width="1.6"/>
<line x1="58.80" y1="623.90" x2="58.80" y2="625.70" stroke="#000" stroke-width="1.8"/>
<line x1="56.40" y1="623.90" x2="61.20" y2="623.90" stroke="#000" stroke-width="1.9"/>
<rect x="64.05" y="554.30" width="8.40" height="124.20" fill="#000"/>
<line x1="69.05" y1="550.10" x2="69.05" y2="554.30" stroke="#000" stroke-width="1.8"/>
<line x1="66.65" y1="550.10" x2="71.45" y2="550.10" stroke="#000" stroke-width="1.9"/>
<rect x="74.45" y="573.70" width="5.80" height="105.10" fill="#fff" stroke="#000" stroke-width="1.6"/>
<line x1="77.45" y1="571.00" x2="77.45" y2="572.90" stroke="#000" stroke-width="1.8"/>
<line x1="75.05" y1="571.00" x2="79.85" y2="571.00" stroke="#000" stroke-width="1.9"/>
<rect x="82.70" y="660.60" width="8.40" height="17.90" fill="#000"/>
<line x1="87.70" y1="660.20" x2="87.70" y2="660.60" stroke="#000" stroke-width="1.8"/>
<line x1="85.30" y1="660.20" x2="90.10" y2="660.20" stroke="#000" stroke-width="1.9"/>
<rect x="93.10" y="592.80" width="5.80" height="86.00" fill="#fff" stroke="#000" stroke-width="1.6"/>
<line x1="96.10" y1="588.10" x2="96.10" y2="592.00" stroke="#000" stroke-width="1.8"/>
<line x1="93.70" y1="588.10" x2="98.50" y2="588.10" stroke="#000" stroke-width="1.9"/>
<rect x="101.35" y="560.00" width="8.40" height="118.50" fill="#000"/>
<line x1="106.35" y1="555.90" x2="106.35" y2="560.00" stroke="#000" stroke-width="1.8"/>
<line x1="103.95" y1="555.90" x2="108.75" y2="555.90" stroke="#000" stroke-width="1.9"/>
<rect x="111.75" y="569.40" width="5.80" height="109.40" fill="#fff" stroke="#000" stroke-width="1.6"/>
<line x1="114.75" y1="565.30" x2="114.75" y2="568.60" stroke="#000" stroke-width="1.8"/>
<line x1="112.35" y1="565.30" x2="117.15" y2="565.30" stroke="#000" stroke-width="1.9"/>
<rect x="120.00" y="662.30" width="8.40" height="16.20" fill="#000"/>
<line x1="125.00" y1="662.00" x2="125.00" y2="662.30" stroke="#000" stroke-width="1.8"/>
<line x1="122.60" y1="662.00" x2="127.40" y2="662.00" stroke="#000" stroke-width="1.9"/>
<rect x="130.40" y="642.80" width="5.80" height="36.00" fill="#fff" stroke="#000" stroke-width="1.6"/>
<line x1="133.40" y1="639.60" x2="133.40" y2="642.00" stroke="#000" stroke-width="1.8"/>
<line x1="131.00" y1="639.60" x2="135.80" y2="639.60" stroke="#000" stroke-width="1.9"/>
<rect x="138.65" y="558.60" width="8.40" height="119.90" fill="#000"/>
<line x1="143.65" y1="553.90" x2="143.65" y2="558.60" stroke="#000" stroke-width="1.8"/>
<line x1="141.25" y1="553.90" x2="146.05" y2="553.90" stroke="#000" stroke-width="1.9"/>
<rect x="149.05" y="581.40" width="5.80" height="97.40" fill="#fff" stroke="#000" stroke-width="1.6"/>
<line x1="152.05" y1="578.10" x2="152.05" y2="580.60" stroke="#000" stroke-width="1.8"/>
<line x1="149.65" y1="578.10" x2="154.45" y2="578.10" stroke="#000" stroke-width="1.9"/>
<rect x="157.30" y="664.90" width="8.40" height="13.60" fill="#000"/>
<line x1="162.30" y1="665.00" x2="162.30" y2="664.90" stroke="#000" stroke-width="1.8"/>
<line x1="159.90" y1="665.00" x2="164.70" y2="665.00" stroke="#000" stroke-width="1.9"/>
<rect x="167.70" y="629.90" width="5.80" height="48.90" fill="#fff" stroke="#000" stroke-width="1.6"/>
<line x1="170.70" y1="625.90" x2="170.70" y2="629.10" stroke="#000" stroke-width="1.8"/>
<line x1="168.30" y1="625.90" x2="173.10" y2="625.90" stroke="#000" stroke-width="1.9"/>
<rect x="175.95" y="561.40" width="8.40" height="117.10" fill="#000"/>
<line x1="180.95" y1="557.30" x2="180.95" y2="561.40" stroke="#000" stroke-width="1.8"/>
<line x1="178.55" y1="557.30" x2="183.35" y2="557.30" stroke="#000" stroke-width="1.9"/>
<rect x="186.35" y="585.70" width="5.80" height="93.10" fill="#fff" stroke="#000" stroke-width="1.6"/>
<line x1="189.35" y1="582.40" x2="189.35" y2="584.90" stroke="#000" stroke-width="1.8"/>
<line x1="186.95" y1="582.40" x2="191.75" y2="582.40" stroke="#000" stroke-width="1.9"/>
<polyline points="50.40,655.50 50.40,615.30 58.80,615.30 58.80,619.90" fill="none" stroke="#000" stroke-width="1.9"/>
<polygon points="50.25,609.06 50.93,610.53 52.53,610.72 51.35,611.81 51.66,613.40 50.25,612.61 48.84,613.40 49.15,611.81 47.97,610.72 49.57,610.53" fill="#000"/>
<polygon points="54.90,609.06 55.58,610.53 57.18,610.72 56.00,611.81 56.31,613.40 54.90,612.61 53.49,613.40 53.80,611.81 52.62,610.72 54.22,610.53" fill="#000"/>
<polygon points="59.55,609.06 60.23,610.53 61.83,610.72 60.65,611.81 60.96,613.40 59.55,612.61 58.14,613.40 58.45,611.81 57.27,610.72 58.87,610.53" fill="#000"/>
<polyline points="69.05,546.10 69.05,542.40 77.45,542.40 77.45,567.00" fill="none" stroke="#000" stroke-width="1.9"/>
<polygon points="71.22,536.16 71.90,537.63 73.51,537.82 72.32,538.91 72.64,540.50 71.22,539.71 69.81,540.50 70.13,538.91 68.94,537.82 70.55,537.63" fill="#000"/>
<polygon points="75.88,536.16 76.55,537.63 78.16,537.82 76.97,538.91 77.29,540.50 75.88,539.71 74.46,540.50 74.78,538.91 73.59,537.82 75.20,537.63" fill="#000"/>
<polyline points="87.70,656.20 87.70,581.60 96.10,581.60 96.10,584.10" fill="none" stroke="#000" stroke-width="1.9"/>
<polygon points="87.55,575.36 88.23,576.83 89.83,577.02 88.65,578.11 88.96,579.70 87.55,578.91 86.14,579.70 86.45,578.11 85.27,577.02 86.87,576.83" fill="#000"/>
<polygon points="92.20,575.36 92.88,576.83 94.48,577.02 93.30,578.11 93.61,579.70 92.20,578.91 90.79,579.70 91.10,578.11 89.92,577.02 91.52,576.83" fill="#000"/>
<polygon points="96.85,575.36 97.53,576.83 99.13,577.02 97.95,578.11 98.26,579.70 96.85,578.91 95.44,579.70 95.75,578.11 94.57,577.02 96.17,576.83" fill="#000"/>
<polyline points="125.00,658.00 125.00,632.40 133.40,632.40 133.40,635.60" fill="none" stroke="#000" stroke-width="1.9"/>
<polygon points="127.17,626.16 127.85,627.63 129.46,627.82 128.27,628.91 128.59,630.50 127.17,629.71 125.76,630.50 126.08,628.91 124.89,627.82 126.50,627.63" fill="#000"/>
<polygon points="131.82,626.16 132.50,627.63 134.11,627.82 132.92,628.91 133.24,630.50 131.82,629.71 130.41,630.50 130.73,628.91 129.54,627.82 131.15,627.63" fill="#000"/>
<polyline points="143.65,549.90 143.65,546.00 152.05,546.00 152.05,574.10" fill="none" stroke="#000" stroke-width="1.9"/>
<polygon points="145.83,539.76 146.50,541.23 148.11,541.42 146.92,542.51 147.24,544.10 145.83,543.31 144.41,544.10 144.73,542.51 143.54,541.42 145.15,541.23" fill="#000"/>
<polygon points="150.48,539.76 151.15,541.23 152.76,541.42 151.57,542.51 151.89,544.10 150.48,543.31 149.06,544.10 149.38,542.51 148.19,541.42 149.80,541.23" fill="#000"/>
<polyline points="162.30,661.00 162.30,618.00 170.70,618.00 170.70,621.90" fill="none" stroke="#000" stroke-width="1.9"/>
<polygon points="162.15,611.76 162.83,613.23 164.43,613.42 163.25,614.51 163.56,616.10 162.15,615.31 160.74,616.10 161.05,614.51 159.87,613.42 161.47,613.23" fill="#000"/>
<polygon points="166.80,611.76 167.48,613.23 169.08,613.42 167.90,614.51 168.21,616.10 166.80,615.31 165.39,616.10 165.70,614.51 164.52,613.42 166.12,613.23" fill="#000"/>
<polygon points="171.45,611.76 172.13,613.23 173.73,613.42 172.55,614.51 172.86,616.10 171.45,615.31 170.04,616.10 170.35,614.51 169.17,613.42 170.77,613.23" fill="#000"/>
<polyline points="180.95,553.30 180.95,549.60 189.35,549.60 189.35,578.40" fill="none" stroke="#000" stroke-width="1.9"/>
<polygon points="180.80,543.36 181.48,544.83 183.08,545.02 181.90,546.11 182.21,547.70 180.80,546.91 179.39,547.70 179.70,546.11 178.52,545.02 180.12,544.83" fill="#000"/>
<polygon points="185.45,543.36 186.13,544.83 187.73,545.02 186.55,546.11 186.86,547.70 185.45,546.91 184.04,547.70 184.35,546.11 183.17,545.02 184.77,544.83" fill="#000"/>
<polygon points="190.10,543.36 190.78,544.83 192.38,545.02 191.20,546.11 191.51,547.70 190.10,546.91 188.69,547.70 189.00,546.11 187.82,545.02 189.42,544.83" fill="#000"/>
<text x="191.40" y="538.60" font-size="12" text-anchor="end" font-weight="normal" >HT29</text>
<line x1="244.70" y1="525.30" x2="244.70" y2="680.30" stroke="#000" stroke-width="3"/>
<line x1="243.20" y1="526.60" x2="395.90" y2="526.60" stroke="#000" stroke-width="2.7"/>
<line x1="394.40" y1="525.30" x2="394.40" y2="680.30" stroke="#000" stroke-width="3"/>
<line x1="238.70" y1="679.10" x2="395.90" y2="679.10" stroke="#000" stroke-width="2.4"/>
<line x1="238.70" y1="678.00" x2="244.20" y2="678.00" stroke="#000" stroke-width="2"/>
<text x="235.90" y="681.90" font-size="11" text-anchor="end" font-weight="normal" >0</text>
<line x1="238.70" y1="628.10" x2="244.20" y2="628.10" stroke="#000" stroke-width="2"/>
<text x="235.90" y="632.00" font-size="11" text-anchor="end" font-weight="normal" >4</text>
<line x1="238.70" y1="578.20" x2="244.20" y2="578.20" stroke="#000" stroke-width="2"/>
<text x="235.90" y="582.10" font-size="11" text-anchor="end" font-weight="normal" >8</text>
<text x="235.90" y="533.40" font-size="11" text-anchor="end" font-weight="normal" >12</text>
<line x1="253.30" y1="680.30" x2="253.30" y2="686.70" stroke="#000" stroke-width="2"/>
<line x1="272.00" y1="680.30" x2="272.00" y2="686.70" stroke="#000" stroke-width="2"/>
<line x1="290.70" y1="680.30" x2="290.70" y2="686.70" stroke="#000" stroke-width="2"/>
<line x1="309.40" y1="680.30" x2="309.40" y2="686.70" stroke="#000" stroke-width="2"/>
<line x1="328.10" y1="680.30" x2="328.10" y2="686.70" stroke="#000" stroke-width="2"/>
<line x1="346.80" y1="680.30" x2="346.80" y2="686.70" stroke="#000" stroke-width="2"/>
<line x1="365.50" y1="680.30" x2="365.50" y2="686.70" stroke="#000" stroke-width="2"/>
<line x1="384.20" y1="680.30" x2="384.20" y2="686.70" stroke="#000" stroke-width="2"/>
<rect x="245.20" y="662.00" width="8.40" height="16.50" fill="#000"/>
<line x1="249.90" y1="661.50" x2="249.90" y2="662.00" stroke="#000" stroke-width="1.8"/>
<line x1="247.50" y1="661.50" x2="252.30" y2="661.50" stroke="#000" stroke-width="1.9"/>
<rect x="255.20" y="625.70" width="6.00" height="53.10" fill="#fff" stroke="#000" stroke-width="1.6"/>
<line x1="258.00" y1="622.40" x2="258.00" y2="624.90" stroke="#000" stroke-width="1.8"/>
<line x1="255.60" y1="622.40" x2="260.40" y2="622.40" stroke="#000" stroke-width="1.9"/>
<rect x="263.78" y="600.00" width="8.40" height="78.50" fill="#000"/>
<line x1="268.48" y1="595.30" x2="268.48" y2="600.00" stroke="#000" stroke-width="1.8"/>
<line x1="266.08" y1="595.30" x2="270.88" y2="595.30" stroke="#000" stroke-width="1.9"/>
<rect x="273.78" y="602.80" width="6.00" height="76.00" fill="#fff" stroke="#000" stroke-width="1.6"/>
<line x1="276.58" y1="598.10" x2="276.58" y2="602.00" stroke="#000" stroke-width="1.8"/>
<line x1="274.18" y1="598.10" x2="278.98" y2="598.10" stroke="#000" stroke-width="1.9"/>
<rect x="282.36" y="663.40" width="8.40" height="15.10" fill="#000"/>
<line x1="287.06" y1="663.00" x2="287.06" y2="663.40" stroke="#000" stroke-width="1.8"/>
<line x1="284.66" y1="663.00" x2="289.46" y2="663.00" stroke="#000" stroke-width="1.9"/>
<rect x="292.36" y="587.90" width="6.00" height="90.90" fill="#fff" stroke="#000" stroke-width="1.6"/>
<line x1="295.16" y1="581.00" x2="295.16" y2="587.10" stroke="#000" stroke-width="1.8"/>
<line x1="292.76" y1="581.00" x2="297.56" y2="581.00" stroke="#000" stroke-width="1.9"/>
<rect x="300.94" y="585.70" width="8.40" height="92.80" fill="#000"/>
<line x1="305.64" y1="577.60" x2="305.64" y2="585.70" stroke="#000" stroke-width="1.8"/>
<line x1="303.24" y1="577.60" x2="308.04" y2="577.60" stroke="#000" stroke-width="1.9"/>
<rect x="310.94" y="555.90" width="6.00" height="122.90" fill="#fff" stroke="#000" stroke-width="1.6"/>
<line x1="313.74" y1="550.10" x2="313.74" y2="555.10" stroke="#000" stroke-width="1.8"/>
<line x1="311.34" y1="550.10" x2="316.14" y2="550.10" stroke="#000" stroke-width="1.9"/>
<rect x="319.52" y="666.30" width="8.40" height="12.20" fill="#000"/>
<line x1="324.22" y1="666.00" x2="324.22" y2="666.30" stroke="#000" stroke-width="1.8"/>
<line x1="321.82" y1="666.00" x2="326.62" y2="666.00" stroke="#000" stroke-width="1.9"/>
<rect x="329.52" y="639.40" width="6.00" height="39.40" fill="#fff" stroke="#000" stroke-width="1.6"/>
<line x1="332.32" y1="632.40" x2="332.32" y2="638.60" stroke="#000" stroke-width="1.8"/>
<line x1="329.92" y1="632.40" x2="334.72" y2="632.40" stroke="#000" stroke-width="1.9"/>
<rect x="338.10" y="608.00" width="8.40" height="70.50" fill="#000"/>
<line x1="342.80" y1="601.60" x2="342.80" y2="608.00" stroke="#000" stroke-width="1.8"/>
<line x1="340.40" y1="601.60" x2="345.20" y2="601.60" stroke="#000" stroke-width="1.9"/>
<rect x="348.10" y="619.90" width="6.00" height="58.90" fill="#fff" stroke="#000" stroke-width="1.6"/>
<line x1="350.90" y1="615.30" x2="350.90" y2="619.10" stroke="#000" stroke-width="1.8"/>
<line x1="348.50" y1="615.30" x2="353.30" y2="615.30" stroke="#000" stroke-width="1.9"/>
<rect x="356.68" y="666.30" width="8.40" height="12.20" fill="#000"/>
<line x1="361.38" y1="666.00" x2="361.38" y2="666.30" stroke="#000" stroke-width="1.8"/>
<line x1="358.98" y1="666.00" x2="363.78" y2="666.00" stroke="#000" stroke-width="1.9"/>
<rect x="366.68" y="632.80" width="6.00" height="46.00" fill="#fff" stroke="#000" stroke-width="1.6"/>
<line x1="369.48" y1="626.70" x2="369.48" y2="632.00" stroke="#000" stroke-width="1.8"/>
<line x1="367.08" y1="626.70" x2="371.88" y2="626.70" stroke="#000" stroke-width="1.9"/>
<rect x="375.26" y="601.40" width="8.40" height="77.10" fill="#000"/>
<line x1="379.96" y1="593.90" x2="379.96" y2="601.40" stroke="#000" stroke-width="1.8"/>
<line x1="377.56" y1="593.90" x2="382.36" y2="593.90" stroke="#000" stroke-width="1.9"/>
<rect x="385.26" y="577.40" width="6.00" height="101.40" fill="#fff" stroke="#000" stroke-width="1.6"/>
<line x1="388.06" y1="568.70" x2="388.06" y2="576.60" stroke="#000" stroke-width="1.8"/>
<line x1="385.66" y1="568.70" x2="390.46" y2="568.70" stroke="#000" stroke-width="1.9"/>
<polyline points="249.90,657.50 249.90,615.30 258.00,615.30 258.00,618.40" fill="none" stroke="#000" stroke-width="1.9"/>
<polygon points="249.60,609.06 250.28,610.53 251.88,610.72 250.70,611.81 251.01,613.40 249.60,612.61 248.19,613.40 248.50,611.81 247.32,610.72 248.92,610.53" fill="#000"/>
<polygon points="254.25,609.06 254.93,610.53 256.53,610.72 255.35,611.81 255.66,613.40 254.25,612.61 252.84,613.40 253.15,611.81 251.97,610.72 253.57,610.53" fill="#000"/>
<polygon points="258.90,609.06 259.58,610.53 261.18,610.72 260.00,611.81 260.31,613.40 258.90,612.61 257.49,613.40 257.80,611.81 256.62,610.72 258.22,610.53" fill="#000"/>
<polyline points="287.06,659.00 287.06,573.90 295.16,573.90 295.16,577.00" fill="none" stroke="#000" stroke-width="1.9"/>
<polygon points="286.76,567.66 287.44,569.13 289.04,569.32 287.86,570.41 288.17,572.00 286.76,571.21 285.35,572.00 285.66,570.41 284.48,569.32 286.08,569.13" fill="#000"/>
<polygon points="291.41,567.66 292.09,569.13 293.69,569.32 292.51,570.41 292.82,572.00 291.41,571.21 290.00,572.00 290.31,570.41 289.13,569.32 290.73,569.13" fill="#000"/>
<polygon points="296.06,567.66 296.74,569.13 298.34,569.32 297.16,570.41 297.47,572.00 296.06,571.21 294.65,572.00 294.96,570.41 293.78,569.32 295.38,569.13" fill="#000"/>
<polyline points="305.64,573.60 305.64,542.40 313.74,542.40 313.74,546.10" fill="none" stroke="#000" stroke-width="1.9"/>
<polygon points="307.67,536.16 308.34,537.63 309.95,537.82 308.76,538.91 309.08,540.50 307.67,539.71 306.25,540.50 306.57,538.91 305.38,537.82 306.99,537.63" fill="#000"/>
<polygon points="312.31,536.16 312.99,537.63 314.60,537.82 313.41,538.91 313.73,540.50 312.31,539.71 310.90,540.50 311.22,538.91 310.03,537.82 311.64,537.63" fill="#000"/>
<polyline points="324.22,662.00 324.22,625.90 332.32,625.90 332.32,628.40" fill="none" stroke="#000" stroke-width="1.9"/>
<polygon points="328.57,619.66 329.25,621.13 330.85,621.32 329.67,622.41 329.98,624.00 328.57,623.21 327.16,624.00 327.47,622.41 326.29,621.32 327.89,621.13" fill="#000"/>
<polyline points="361.38,662.00 361.38,621.60 369.48,621.60 369.48,622.70" fill="none" stroke="#000" stroke-width="1.9"/>
<polygon points="361.08,615.36 361.76,616.83 363.36,617.02 362.18,618.11 362.49,619.70 361.08,618.91 359.67,619.70 359.98,618.11 358.80,617.02 360.40,616.83" fill="#000"/>
<polygon points="365.73,615.36 366.41,616.83 368.01,617.02 366.83,618.11 367.14,619.70 365.73,618.91 364.32,619.70 364.63,618.11 363.45,617.02 365.05,616.83" fill="#000"/>
<polygon points="370.38,615.36 371.06,616.83 372.66,617.02 371.48,618.11 371.79,619.70 370.38,618.91 368.97,619.70 369.28,618.11 368.10,617.02 369.70,616.83" fill="#000"/>
<polyline points="379.96,589.90 379.96,563.90 388.06,563.90 388.06,564.70" fill="none" stroke="#000" stroke-width="1.9"/>
<polygon points="384.31,557.66 384.99,559.13 386.59,559.32 385.41,560.41 385.72,562.00 384.31,561.21 382.90,562.00 383.21,560.41 382.03,559.32 383.63,559.13" fill="#000"/>
<text x="390.40" y="539.10" font-size="12" text-anchor="end" font-weight="normal" >HT29</text>
<line x1="39.20" y1="522.10" x2="45.80" y2="522.10" stroke="#000" stroke-width="2.1"/>
<line x1="238.20" y1="522.00" x2="244.70" y2="522.00" stroke="#000" stroke-width="2.1"/>
<line x1="45.00" y1="691.00" x2="45.00" y2="844.90" stroke="#000" stroke-width="2.5"/>
<line x1="43.50" y1="692.30" x2="196.60" y2="692.30" stroke="#000" stroke-width="2.7"/>
<line x1="195.10" y1="691.00" x2="195.10" y2="844.90" stroke="#000" stroke-width="3"/>
<line x1="39.00" y1="843.70" x2="196.60" y2="843.70" stroke="#000" stroke-width="2.4"/>
<line x1="39.00" y1="842.60" x2="44.50" y2="842.60" stroke="#000" stroke-width="2"/>
<text x="36.20" y="846.50" font-size="11" text-anchor="end" font-weight="normal" >0</text>
<line x1="39.00" y1="792.73" x2="44.50" y2="792.73" stroke="#000" stroke-width="2"/>
<text x="36.20" y="796.63" font-size="11" text-anchor="end" font-weight="normal" >5</text>
<line x1="39.00" y1="742.87" x2="44.50" y2="742.87" stroke="#000" stroke-width="2"/>
<text x="36.20" y="746.77" font-size="11" text-anchor="end" font-weight="normal" >10</text>
<line x1="39.00" y1="693.00" x2="44.50" y2="693.00" stroke="#000" stroke-width="2"/>
<text x="36.20" y="696.90" font-size="11" text-anchor="end" font-weight="normal" >15</text>
<line x1="54.10" y1="844.90" x2="54.10" y2="851.30" stroke="#000" stroke-width="2"/>
<line x1="72.77" y1="844.90" x2="72.77" y2="851.30" stroke="#000" stroke-width="2"/>
<line x1="91.44" y1="844.90" x2="91.44" y2="851.30" stroke="#000" stroke-width="2"/>
<line x1="110.11" y1="844.90" x2="110.11" y2="851.30" stroke="#000" stroke-width="2"/>
<line x1="128.78" y1="844.90" x2="128.78" y2="851.30" stroke="#000" stroke-width="2"/>
<line x1="147.45" y1="844.90" x2="147.45" y2="851.30" stroke="#000" stroke-width="2"/>
<line x1="166.12" y1="844.90" x2="166.12" y2="851.30" stroke="#000" stroke-width="2"/>
<line x1="184.79" y1="844.90" x2="184.79" y2="851.30" stroke="#000" stroke-width="2"/>
<rect x="45.20" y="841.30" width="9.20" height="1.80" fill="#000"/>
<rect x="55.20" y="842.10" width="5.20" height="1.30" fill="#fff" stroke="#000" stroke-width="1.6"/>
<rect x="64.05" y="764.30" width="9.20" height="78.80" fill="#000"/>
<line x1="68.65" y1="746.30" x2="68.65" y2="764.30" stroke="#000" stroke-width="1.6"/>
<line x1="66.75" y1="747.00" x2="70.55" y2="747.00" stroke="#000" stroke-width="1.5"/>
<rect x="74.05" y="744.20" width="5.20" height="99.20" fill="#fff" stroke="#000" stroke-width="1.6"/>
<line x1="76.45" y1="725.70" x2="76.45" y2="743.40" stroke="#000" stroke-width="1.6"/>
<line x1="74.55" y1="726.40" x2="78.35" y2="726.40" stroke="#000" stroke-width="1.5"/>
<rect x="82.90" y="841.30" width="9.20" height="1.80" fill="#000"/>
<rect x="92.90" y="842.10" width="5.20" height="1.30" fill="#fff" stroke="#000" stroke-width="1.6"/>
<rect x="101.75" y="773.70" width="9.20" height="69.40" fill="#000"/>
<line x1="106.35" y1="757.70" x2="106.35" y2="773.70" stroke="#000" stroke-width="1.6"/>
<line x1="104.45" y1="758.40" x2="108.25" y2="758.40" stroke="#000" stroke-width="1.5"/>
<rect x="111.75" y="769.90" width="5.20" height="73.50" fill="#fff" stroke="#000" stroke-width="1.6"/>
<line x1="114.15" y1="757.10" x2="114.15" y2="769.10" stroke="#000" stroke-width="1.6"/>
<line x1="112.25" y1="757.80" x2="116.05" y2="757.80" stroke="#000" stroke-width="1.5"/>
<rect x="120.60" y="841.30" width="9.20" height="1.80" fill="#000"/>
<rect x="130.60" y="842.10" width="5.20" height="1.30" fill="#fff" stroke="#000" stroke-width="1.6"/>
<rect x="139.45" y="772.00" width="9.20" height="71.10" fill="#000"/>
<line x1="144.05" y1="754.30" x2="144.05" y2="772.00" stroke="#000" stroke-width="1.6"/>
<line x1="142.15" y1="755.00" x2="145.95" y2="755.00" stroke="#000" stroke-width="1.5"/>
<rect x="149.45" y="765.90" width="5.20" height="77.50" fill="#fff" stroke="#000" stroke-width="1.6"/>
<line x1="151.85" y1="752.90" x2="151.85" y2="765.10" stroke="#000" stroke-width="1.6"/>
<line x1="149.95" y1="753.60" x2="153.75" y2="753.60" stroke="#000" stroke-width="1.5"/>
<rect x="158.30" y="841.30" width="9.20" height="1.80" fill="#000"/>
<rect x="168.30" y="842.10" width="5.20" height="1.30" fill="#fff" stroke="#000" stroke-width="1.6"/>
<rect x="177.15" y="792.90" width="9.20" height="50.20" fill="#000"/>
<line x1="181.75" y1="781.40" x2="181.75" y2="792.90" stroke="#000" stroke-width="1.6"/>
<line x1="179.85" y1="782.10" x2="183.65" y2="782.10" stroke="#000" stroke-width="1.5"/>
<rect x="187.15" y="790.20" width="5.20" height="53.20" fill="#fff" stroke="#000" stroke-width="1.6"/>
<line x1="189.55" y1="780.60" x2="189.55" y2="789.40" stroke="#000" stroke-width="1.6"/>
<line x1="187.65" y1="781.30" x2="191.45" y2="781.30" stroke="#000" stroke-width="1.5"/>
<text x="190.80" y="705.80" font-size="12.2" text-anchor="end" font-weight="normal" >D10</text>
<line x1="244.70" y1="727.10" x2="244.70" y2="880.20" stroke="#000" stroke-width="2.5"/>
<line x1="243.20" y1="728.40" x2="395.80" y2="728.40" stroke="#000" stroke-width="2.7"/>
<line x1="394.30" y1="727.10" x2="394.30" y2="880.20" stroke="#000" stroke-width="3"/>
<line x1="238.70" y1="879.00" x2="395.80" y2="879.00" stroke="#000" stroke-width="2.4"/>
<line x1="238.70" y1="877.90" x2="244.20" y2="877.90" stroke="#000" stroke-width="2"/>
<text x="235.90" y="881.80" font-size="11" text-anchor="end" font-weight="normal" >0</text>
<line x1="238.70" y1="828.03" x2="244.20" y2="828.03" stroke="#000" stroke-width="2"/>
<text x="235.90" y="831.93" font-size="11" text-anchor="end" font-weight="normal" >5</text>
<line x1="238.70" y1="778.17" x2="244.20" y2="778.17" stroke="#000" stroke-width="2"/>
<text x="235.90" y="782.07" font-size="11" text-anchor="end" font-weight="normal" >10</text>
<line x1="238.70" y1="728.30" x2="244.20" y2="728.30" stroke="#000" stroke-width="2"/>
<text x="235.90" y="732.20" font-size="11" text-anchor="end" font-weight="normal" >15</text>
<line x1="253.30" y1="880.20" x2="253.30" y2="886.60" stroke="#000" stroke-width="2"/>
<line x1="272.00" y1="880.20" x2="272.00" y2="886.60" stroke="#000" stroke-width="2"/>
<line x1="290.70" y1="880.20" x2="290.70" y2="886.60" stroke="#000" stroke-width="2"/>
<line x1="309.40" y1="880.20" x2="309.40" y2="886.60" stroke="#000" stroke-width="2"/>
<line x1="328.10" y1="880.20" x2="328.10" y2="886.60" stroke="#000" stroke-width="2"/>
<line x1="346.80" y1="880.20" x2="346.80" y2="886.60" stroke="#000" stroke-width="2"/>
<line x1="365.50" y1="880.20" x2="365.50" y2="886.60" stroke="#000" stroke-width="2"/>
<line x1="384.20" y1="880.20" x2="384.20" y2="886.60" stroke="#000" stroke-width="2"/>
<rect x="245.95" y="877.20" width="8.40" height="1.20" fill="#000"/>
<rect x="255.95" y="878.00" width="6.00" height="0.70" fill="#fff" stroke="#000" stroke-width="1.6"/>
<rect x="264.50" y="877.20" width="8.40" height="1.20" fill="#000"/>
<rect x="274.50" y="875.90" width="6.00" height="2.80" fill="#fff" stroke="#000" stroke-width="1.6"/>
<rect x="283.05" y="877.20" width="8.40" height="1.20" fill="#000"/>
<rect x="293.05" y="878.00" width="6.00" height="0.70" fill="#fff" stroke="#000" stroke-width="1.6"/>
<rect x="301.60" y="877.20" width="8.40" height="1.20" fill="#000"/>
<rect x="311.60" y="873.20" width="6.00" height="5.50" fill="#fff" stroke="#000" stroke-width="1.6"/>
<rect x="320.15" y="877.20" width="8.40" height="1.20" fill="#000"/>
<rect x="330.15" y="878.00" width="6.00" height="0.70" fill="#fff" stroke="#000" stroke-width="1.6"/>
<rect x="338.70" y="877.20" width="8.40" height="1.20" fill="#000"/>
<rect x="348.70" y="878.00" width="6.00" height="0.70" fill="#fff" stroke="#000" stroke-width="1.6"/>
<rect x="357.25" y="877.20" width="8.40" height="1.20" fill="#000"/>
<rect x="367.25" y="878.00" width="6.00" height="0.70" fill="#fff" stroke="#000" stroke-width="1.6"/>
<rect x="375.80" y="877.20" width="8.40" height="1.20" fill="#000"/>
<rect x="385.80" y="878.00" width="6.00" height="0.70" fill="#fff" stroke="#000" stroke-width="1.6"/>
<polyline points="269.20,874.00 269.20,869.30 277.30,869.30 277.30,873.00" fill="none" stroke="#000" stroke-width="1.9"/>
<polygon points="268.90,863.06 269.58,864.53 271.18,864.72 270.00,865.81 270.31,867.40 268.90,866.61 267.49,867.40 267.80,865.81 266.62,864.72 268.22,864.53" fill="#000"/>
<polygon points="273.55,863.06 274.23,864.53 275.83,864.72 274.65,865.81 274.96,867.40 273.55,866.61 272.14,867.40 272.45,865.81 271.27,864.72 272.87,864.53" fill="#000"/>
<polygon points="278.20,863.06 278.88,864.53 280.48,864.72 279.30,865.81 279.61,867.40 278.20,866.61 276.79,867.40 277.10,865.81 275.92,864.72 277.52,864.53" fill="#000"/>
<polyline points="306.30,874.00 306.30,869.30 314.40,869.30 314.40,871.00" fill="none" stroke="#000" stroke-width="1.9"/>
<polygon points="306.00,863.06 306.68,864.53 308.28,864.72 307.10,865.81 307.41,867.40 306.00,866.61 304.59,867.40 304.90,865.81 303.72,864.72 305.32,864.53" fill="#000"/>
<polygon points="310.65,863.06 311.33,864.53 312.93,864.72 311.75,865.81 312.06,867.40 310.65,866.61 309.24,867.40 309.55,865.81 308.37,864.72 309.97,864.53" fill="#000"/>
<polygon points="315.30,863.06 315.98,864.53 317.58,864.72 316.40,865.81 316.71,867.40 315.30,866.61 313.89,867.40 314.20,865.81 313.02,864.72 314.62,864.53" fill="#000"/>
<text x="390.90" y="742.60" font-size="12.2" text-anchor="end" font-weight="normal" >D10</text>
<text transform="translate(15.90,105.00) rotate(-90)" font-size="15.6" text-anchor="middle">IL8 (ng/ml)</text>
<text transform="translate(15.90,265.60) rotate(-90)" font-size="15.6" text-anchor="middle">IL8 (ng/ml)</text>
<text transform="translate(15.90,434.30) rotate(-90)" font-size="15.6" text-anchor="middle">IL8 (ng/ml)</text>
<text transform="translate(15.90,602.90) rotate(-90)" font-size="15.6" text-anchor="middle">IL8 (ng/ml)</text>
<text transform="translate(15.90,768.50) rotate(-90)" font-size="15.6" text-anchor="middle">IL8 (ng/ml)</text>
<text x="54.10" y="862.70" font-size="11.8" text-anchor="middle" font-weight="normal" >-</text>
<text x="72.77" y="862.70" font-size="11.8" text-anchor="middle" font-weight="normal" >+</text>
<text x="91.44" y="862.70" font-size="11.8" text-anchor="middle" font-weight="normal" >-</text>
<text x="110.11" y="862.70" font-size="11.8" text-anchor="middle" font-weight="normal" >+</text>
<text x="128.78" y="862.70" font-size="11.8" text-anchor="middle" font-weight="normal" >-</text>
<text x="147.45" y="862.70" font-size="11.8" text-anchor="middle" font-weight="normal" >+</text>
<text x="166.12" y="862.70" font-size="11.8" text-anchor="middle" font-weight="normal" >-</text>
<text x="184.79" y="862.70" font-size="11.8" text-anchor="middle" font-weight="normal" >+</text>
<text x="193.30" y="862.70" font-size="11.8" text-anchor="start" font-weight="normal" >TNF</text>
<text x="54.10" y="874.30" font-size="11.8" text-anchor="middle" font-weight="normal" >-</text>
<text x="72.77" y="874.30" font-size="11.8" text-anchor="middle" font-weight="normal" >-</text>
<text x="91.44" y="874.30" font-size="11.8" text-anchor="middle" font-weight="normal" >+</text>
<text x="110.11" y="874.30" font-size="11.8" text-anchor="middle" font-weight="normal" >+</text>
<text x="128.78" y="874.30" font-size="11.8" text-anchor="middle" font-weight="normal" >-</text>
<text x="147.45" y="874.30" font-size="11.8" text-anchor="middle" font-weight="normal" >-</text>
<text x="166.12" y="874.30" font-size="11.8" text-anchor="middle" font-weight="normal" >+</text>
<text x="184.79" y="874.30" font-size="11.8" text-anchor="middle" font-weight="normal" >+</text>
<text x="193.30" y="874.30" font-size="11.8" text-anchor="start" font-weight="normal" >zVAD</text>
<text x="54.10" y="886.50" font-size="11.8" text-anchor="middle" font-weight="normal" >-</text>
<text x="72.77" y="886.50" font-size="11.8" text-anchor="middle" font-weight="normal" >-</text>
<text x="91.44" y="886.50" font-size="11.8" text-anchor="middle" font-weight="normal" >-</text>
<text x="110.11" y="886.50" font-size="11.8" text-anchor="middle" font-weight="normal" >-</text>
<text x="128.78" y="886.50" font-size="11.8" text-anchor="middle" font-weight="normal" >+</text>
<text x="147.45" y="886.50" font-size="11.8" text-anchor="middle" font-weight="normal" >+</text>
<text x="166.12" y="886.50" font-size="11.8" text-anchor="middle" font-weight="normal" >+</text>
<text x="184.79" y="886.50" font-size="11.8" text-anchor="middle" font-weight="normal" >+</text>
<text x="193.30" y="886.50" font-size="11.8" text-anchor="start" font-weight="normal" >Nec-1</text>
<text x="254.70" y="696.90" font-size="11.8" text-anchor="middle" font-weight="normal" >-</text>
<text x="273.40" y="696.90" font-size="11.8" text-anchor="middle" font-weight="normal" >+</text>
<text x="292.10" y="696.90" font-size="11.8" text-anchor="middle" font-weight="normal" >-</text>
<text x="310.80" y="696.90" font-size="11.8" text-anchor="middle" font-weight="normal" >+</text>
<text x="329.50" y="696.90" font-size="11.8" text-anchor="middle" font-weight="normal" >-</text>
<text x="348.20" y="696.90" font-size="11.8" text-anchor="middle" font-weight="normal" >+</text>
<text x="366.90" y="696.90" font-size="11.8" text-anchor="middle" font-weight="normal" >-</text>
<text x="385.60" y="696.90" font-size="11.8" text-anchor="middle" font-weight="normal" >+</text>
<text x="395.80" y="696.90" font-size="11.8" text-anchor="start" font-weight="normal" >Fc-CD95L</text>
<text x="254.70" y="708.90" font-size="11.8" text-anchor="middle" font-weight="normal" >-</text>
<text x="273.40" y="708.90" font-size="11.8" text-anchor="middle" font-weight="normal" >-</text>
<text x="292.10" y="708.90" font-size="11.8" text-anchor="middle" font-weight="normal" >+</text>
<text x="310.80" y="708.90" font-size="11.8" text-anchor="middle" font-weight="normal" >+</text>
<text x="329.50" y="708.90" font-size="11.8" text-anchor="middle" font-weight="normal" >-</text>
<text x="348.20" y="708.90" font-size="11.8" text-anchor="middle" font-weight="normal" >-</text>
<text x="366.90" y="708.90" font-size="11.8" text-anchor="middle" font-weight="normal" >+</text>
<text x="385.60" y="708.90" font-size="11.8" text-anchor="middle" font-weight="normal" >+</text>
<text x="395.80" y="708.90" font-size="11.8" text-anchor="start" font-weight="normal" >zVAD</text>
<text x="254.70" y="721.70" font-size="11.8" text-anchor="middle" font-weight="normal" >-</text>
<text x="273.40" y="721.70" font-size="11.8" text-anchor="middle" font-weight="normal" >-</text>
<text x="292.10" y="721.70" font-size="11.8" text-anchor="middle" font-weight="normal" >-</text>
<text x="310.80" y="721.70" font-size="11.8" text-anchor="middle" font-weight="normal" >-</text>
<text x="329.50" y="721.70" font-size="11.8" text-anchor="middle" font-weight="normal" >+</text>
<text x="348.20" y="721.70" font-size="11.8" text-anchor="middle" font-weight="normal" >+</text>
<text x="366.90" y="721.70" font-size="11.8" text-anchor="middle" font-weight="normal" >+</text>
<text x="385.60" y="721.70" font-size="11.8" text-anchor="middle" font-weight="normal" >+</text>
<text x="395.80" y="721.70" font-size="11.8" text-anchor="start" font-weight="normal" >Nec-1</text>
<text x="253.30" y="897.60" font-size="11.8" text-anchor="middle" font-weight="normal" >-</text>
<text x="272.00" y="897.60" font-size="11.8" text-anchor="middle" font-weight="normal" >+</text>
<text x="290.70" y="897.60" font-size="11.8" text-anchor="middle" font-weight="normal" >-</text>
<text x="309.40" y="897.60" font-size="11.8" text-anchor="middle" font-weight="normal" >+</text>
<text x="328.10" y="897.60" font-size="11.8" text-anchor="middle" font-weight="normal" >-</text>
<text x="346.80" y="897.60" font-size="11.8" text-anchor="middle" font-weight="normal" >+</text>
<text x="365.50" y="897.60" font-size="11.8" text-anchor="middle" font-weight="normal" >-</text>
<text x="384.20" y="897.60" font-size="11.8" text-anchor="middle" font-weight="normal" >+</text>
<text x="394.00" y="897.60" font-size="11.8" text-anchor="start" font-weight="normal" >TRAIL</text>
<text x="253.30" y="909.80" font-size="11.8" text-anchor="middle" font-weight="normal" >-</text>
<text x="272.00" y="909.80" font-size="11.8" text-anchor="middle" font-weight="normal" >-</text>
<text x="290.70" y="909.80" font-size="11.8" text-anchor="middle" font-weight="normal" >+</text>
<text x="309.40" y="909.80" font-size="11.8" text-anchor="middle" font-weight="normal" >+</text>
<text x="328.10" y="909.80" font-size="11.8" text-anchor="middle" font-weight="normal" >-</text>
<text x="346.80" y="909.80" font-size="11.8" text-anchor="middle" font-weight="normal" >-</text>
<text x="365.50" y="909.80" font-size="11.8" text-anchor="middle" font-weight="normal" >+</text>
<text x="384.20" y="909.80" font-size="11.8" text-anchor="middle" font-weight="normal" >+</text>
<text x="394.00" y="909.80" font-size="11.8" text-anchor="start" font-weight="normal" >zVAD</text>
<text x="253.30" y="922.10" font-size="11.8" text-anchor="middle" font-weight="normal" >-</text>
<text x="272.00" y="922.10" font-size="11.8" text-anchor="middle" font-weight="normal" >-</text>
<text x="290.70" y="922.10" font-size="11.8" text-anchor="middle" font-weight="normal" >-</text>
<text x="309.40" y="922.10" font-size="11.8" text-anchor="middle" font-weight="normal" >-</text>
<text x="328.10" y="922.10" font-size="11.8" text-anchor="middle" font-weight="normal" >+</text>
<text x="346.80" y="922.10" font-size="11.8" text-anchor="middle" font-weight="normal" >+</text>
<text x="365.50" y="922.10" font-size="11.8" text-anchor="middle" font-weight="normal" >+</text>
<text x="384.20" y="922.10" font-size="11.8" text-anchor="middle" font-weight="normal" >+</text>
<text x="394.00" y="922.10" font-size="11.8" text-anchor="start" font-weight="normal" >Nec-1</text>
<text x="0.30" y="16.40" font-size="20.5" text-anchor="start" font-weight="normal" >A</text>
<text x="448.30" y="16.40" font-size="20" text-anchor="start" font-weight="normal" >B</text>
<rect x="46.50" y="4.40" width="22.50" height="14.00" fill="#000"/>
<text x="72.20" y="15.80" font-size="16.6" text-anchor="start" font-weight="normal" >parental</text>
<rect x="167.20" y="5.20" width="19.60" height="11.60" fill="#fff" stroke="#000" stroke-width="1.7"/>
<text x="191.20" y="16.40" font-size="16" text-anchor="start" font-weight="normal" >TRAF2</text>
<text x="243.60" y="21.20" font-size="13.2" text-anchor="start" font-weight="normal" >KO</text>
<line x1="490.60" y1="29.70" x2="490.60" y2="181.65" stroke="#000" stroke-width="2.6"/>
<line x1="489.30" y1="30.90" x2="642.00" y2="30.90" stroke="#000" stroke-width="2.4"/>
<line x1="640.60" y1="29.70" x2="640.60" y2="181.65" stroke="#000" stroke-width="2.8"/>
<line x1="486.30" y1="180.35" x2="642.00" y2="180.35" stroke="#000" stroke-width="2.6"/>
<line x1="486.30" y1="180.35" x2="490.30" y2="180.35" stroke="#000" stroke-width="1.9"/>
<text x="484.10" y="184.65" font-size="12" text-anchor="end" font-weight="normal" >0</text>
<line x1="486.30" y1="159.00" x2="490.30" y2="159.00" stroke="#000" stroke-width="1.9"/>
<text x="484.10" y="163.30" font-size="12" text-anchor="end" font-weight="normal" >1</text>
<line x1="486.30" y1="137.65" x2="490.30" y2="137.65" stroke="#000" stroke-width="1.9"/>
<text x="484.10" y="141.95" font-size="12" text-anchor="end" font-weight="normal" >2</text>
<line x1="486.30" y1="116.30" x2="490.30" y2="116.30" stroke="#000" stroke-width="1.9"/>
<text x="484.10" y="120.60" font-size="12" text-anchor="end" font-weight="normal" >3</text>
<line x1="486.30" y1="94.95" x2="490.30" y2="94.95" stroke="#000" stroke-width="1.9"/>
<text x="484.10" y="99.25" font-size="12" text-anchor="end" font-weight="normal" >4</text>
<line x1="486.30" y1="73.60" x2="490.30" y2="73.60" stroke="#000" stroke-width="1.9"/>
<text x="484.10" y="77.90" font-size="12" text-anchor="end" font-weight="normal" >5</text>
<line x1="486.30" y1="52.25" x2="490.30" y2="52.25" stroke="#000" stroke-width="1.9"/>
<text x="484.10" y="56.55" font-size="12" text-anchor="end" font-weight="normal" >6</text>
<line x1="486.30" y1="30.90" x2="490.30" y2="30.90" stroke="#000" stroke-width="1.9"/>
<text x="484.10" y="35.20" font-size="12" text-anchor="end" font-weight="normal" >7</text>
<line x1="499.30" y1="181.65" x2="499.30" y2="185.15" stroke="#000" stroke-width="2.0"/>
<line x1="515.84" y1="181.65" x2="515.84" y2="185.15" stroke="#000" stroke-width="2.0"/>
<line x1="532.38" y1="181.65" x2="532.38" y2="185.15" stroke="#000" stroke-width="2.0"/>
<line x1="548.92" y1="181.65" x2="548.92" y2="185.15" stroke="#000" stroke-width="2.0"/>
<line x1="565.46" y1="181.65" x2="565.46" y2="185.15" stroke="#000" stroke-width="2.0"/>
<line x1="582.00" y1="181.65" x2="582.00" y2="185.15" stroke="#000" stroke-width="2.0"/>
<line x1="598.54" y1="181.65" x2="598.54" y2="185.15" stroke="#000" stroke-width="2.0"/>
<line x1="615.08" y1="181.65" x2="615.08" y2="185.15" stroke="#000" stroke-width="2.0"/>
<line x1="631.62" y1="181.65" x2="631.62" y2="185.15" stroke="#000" stroke-width="2.0"/>
<rect x="493.75" y="166.45" width="11.10" height="13.90" fill="#fff" stroke="#000" stroke-width="2.3"/>
<line x1="498.70" y1="163.30" x2="498.70" y2="165.30" stroke="#000" stroke-width="2.5"/>
<line x1="495.20" y1="163.30" x2="502.20" y2="163.30" stroke="#000" stroke-width="2.1"/>
<rect x="510.29" y="169.15" width="11.10" height="11.20" fill="#fff" stroke="#000" stroke-width="2.3"/>
<line x1="515.24" y1="166.40" x2="515.24" y2="168.00" stroke="#000" stroke-width="2.5"/>
<line x1="511.74" y1="166.40" x2="518.74" y2="166.40" stroke="#000" stroke-width="2.1"/>
<rect x="526.83" y="165.15" width="11.10" height="15.20" fill="#fff" stroke="#000" stroke-width="2.3"/>
<line x1="531.78" y1="161.30" x2="531.78" y2="164.00" stroke="#000" stroke-width="2.5"/>
<line x1="528.28" y1="161.30" x2="535.28" y2="161.30" stroke="#000" stroke-width="2.1"/>
<rect x="543.37" y="44.95" width="11.10" height="135.40" fill="#000" stroke="#000" stroke-width="2.3"/>
<line x1="548.32" y1="40.60" x2="548.32" y2="43.80" stroke="#000" stroke-width="2.5"/>
<line x1="544.82" y1="40.60" x2="551.82" y2="40.60" stroke="#000" stroke-width="2.1"/>
<rect x="559.91" y="114.65" width="11.10" height="65.70" fill="#000" stroke="#000" stroke-width="2.3"/>
<line x1="564.86" y1="97.50" x2="564.86" y2="113.50" stroke="#000" stroke-width="2.5"/>
<line x1="561.36" y1="97.50" x2="568.36" y2="97.50" stroke="#000" stroke-width="2.1"/>
<rect x="576.45" y="161.95" width="11.10" height="18.40" fill="#000" stroke="#000" stroke-width="2.3"/>
<line x1="581.40" y1="161.10" x2="581.40" y2="160.80" stroke="#000" stroke-width="2.5"/>
<line x1="577.90" y1="161.10" x2="584.90" y2="161.10" stroke="#000" stroke-width="2.1"/>
<rect x="592.99" y="135.75" width="11.10" height="44.60" fill="#666" stroke="#000" stroke-width="2.3"/>
<line x1="597.94" y1="131.40" x2="597.94" y2="134.60" stroke="#000" stroke-width="2.5"/>
<line x1="594.44" y1="131.40" x2="601.44" y2="131.40" stroke="#000" stroke-width="2.1"/>
<rect x="609.53" y="152.45" width="11.10" height="27.90" fill="#666" stroke="#000" stroke-width="2.3"/>
<line x1="614.48" y1="149.20" x2="614.48" y2="151.30" stroke="#000" stroke-width="2.5"/>
<line x1="610.98" y1="149.20" x2="617.98" y2="149.20" stroke="#000" stroke-width="2.1"/>
<rect x="626.07" y="168.55" width="11.10" height="11.80" fill="#666" stroke="#000" stroke-width="2.3"/>
<line x1="631.02" y1="167.40" x2="631.02" y2="167.40" stroke="#000" stroke-width="2.5"/>
<line x1="627.52" y1="167.40" x2="634.52" y2="167.40" stroke="#000" stroke-width="2.1"/>
<polyline points="550.40,35.50 564.70,35.50 564.70,95.30" fill="none" stroke="#6a6a6a" stroke-width="1.1"/>
<polygon points="555.30,37.55 555.98,39.17 557.73,39.31 556.39,40.46 556.80,42.16 555.30,41.25 553.80,42.16 554.21,40.46 552.87,39.31 554.62,39.17" fill="#000"/>
<polygon points="559.70,37.55 560.38,39.17 562.13,39.31 560.79,40.46 561.20,42.16 559.70,41.25 558.20,42.16 558.61,40.46 557.27,39.31 559.02,39.17" fill="#000"/>
<polyline points="549.00,33.00 580.40,33.00 580.40,148.70" fill="none" stroke="#6a6a6a" stroke-width="1.1"/>
<polygon points="567.90,33.05 568.58,34.67 570.33,34.81 568.99,35.96 569.40,37.66 567.90,36.75 566.40,37.66 566.81,35.96 565.47,34.81 567.22,34.67" fill="#000"/>
<polygon points="572.60,33.05 573.28,34.67 575.03,34.81 573.69,35.96 574.10,37.66 572.60,36.75 571.10,37.66 571.51,35.96 570.17,34.81 571.92,34.67" fill="#000"/>
<polygon points="577.40,33.05 578.08,34.67 579.83,34.81 578.49,35.96 578.90,37.66 577.40,36.75 575.90,37.66 576.31,35.96 574.97,34.81 576.72,34.67" fill="#000"/>
<polyline points="598.60,120.00 631.50,120.00 631.50,162.50" fill="none" stroke="#6a6a6a" stroke-width="1.1"/>
<polygon points="610.00,114.85 610.68,116.47 612.43,116.61 611.09,117.76 611.50,119.46 610.00,118.55 608.50,119.46 608.91,117.76 607.57,116.61 609.32,116.47" fill="#000"/>
<polygon points="614.70,114.85 615.38,116.47 617.13,116.61 615.79,117.76 616.20,119.46 614.70,118.55 613.20,119.46 613.61,117.76 612.27,116.61 614.02,116.47" fill="#000"/>
<polygon points="619.40,114.85 620.08,116.47 621.83,116.61 620.49,117.76 620.90,119.46 619.40,118.55 617.90,119.46 618.31,117.76 616.97,116.61 618.72,116.47" fill="#000"/>
<polyline points="598.60,128.20 615.50,128.20 615.50,146.80" fill="none" stroke="#6a6a6a" stroke-width="1.1"/>
<polygon points="607.10,122.45 607.78,124.07 609.53,124.21 608.19,125.36 608.60,127.06 607.10,126.15 605.60,127.06 606.01,125.36 604.67,124.21 606.42,124.07" fill="#000"/>
<text x="583.90" y="44.60" font-size="11.7" text-anchor="start" font-weight="normal" >HCT116-</text>
<text x="583.90" y="57.40" font-size="11.7" text-anchor="start" font-weight="normal" >PIK3...-</text>
<text x="583.90" y="71.60" font-size="11.7" text-anchor="start" font-weight="normal" >TRAF2</text>
<text x="621.90" y="74.30" font-size="9.5" text-anchor="start" font-weight="normal" >KO</text>
<line x1="490.60" y1="193.80" x2="490.60" y2="345.70" stroke="#000" stroke-width="2.6"/>
<line x1="489.30" y1="195.00" x2="642.00" y2="195.00" stroke="#000" stroke-width="2.4"/>
<line x1="640.60" y1="193.80" x2="640.60" y2="345.70" stroke="#000" stroke-width="2.8"/>
<line x1="486.30" y1="344.40" x2="642.00" y2="344.40" stroke="#000" stroke-width="2.6"/>
<line x1="486.30" y1="344.40" x2="490.30" y2="344.40" stroke="#000" stroke-width="1.9"/>
<text x="484.10" y="348.70" font-size="12" text-anchor="end" font-weight="normal" >0</text>
<line x1="486.30" y1="319.47" x2="490.30" y2="319.47" stroke="#000" stroke-width="1.9"/>
<text x="484.10" y="323.77" font-size="12" text-anchor="end" font-weight="normal" >1</text>
<line x1="486.30" y1="294.53" x2="490.30" y2="294.53" stroke="#000" stroke-width="1.9"/>
<text x="484.10" y="298.83" font-size="12" text-anchor="end" font-weight="normal" >2</text>
<line x1="486.30" y1="269.60" x2="490.30" y2="269.60" stroke="#000" stroke-width="1.9"/>
<text x="484.10" y="273.90" font-size="12" text-anchor="end" font-weight="normal" >3</text>
<line x1="486.30" y1="244.67" x2="490.30" y2="244.67" stroke="#000" stroke-width="1.9"/>
<text x="484.10" y="248.97" font-size="12" text-anchor="end" font-weight="normal" >4</text>
<line x1="486.30" y1="219.73" x2="490.30" y2="219.73" stroke="#000" stroke-width="1.9"/>
<text x="484.10" y="224.03" font-size="12" text-anchor="end" font-weight="normal" >5</text>
<line x1="486.30" y1="194.80" x2="490.30" y2="194.80" stroke="#000" stroke-width="1.9"/>
<text x="484.10" y="199.10" font-size="12" text-anchor="end" font-weight="normal" >6</text>
<line x1="499.30" y1="345.70" x2="499.30" y2="349.20" stroke="#000" stroke-width="2.0"/>
<line x1="515.84" y1="345.70" x2="515.84" y2="349.20" stroke="#000" stroke-width="2.0"/>
<line x1="532.38" y1="345.70" x2="532.38" y2="349.20" stroke="#000" stroke-width="2.0"/>
<line x1="548.92" y1="345.70" x2="548.92" y2="349.20" stroke="#000" stroke-width="2.0"/>
<line x1="565.46" y1="345.70" x2="565.46" y2="349.20" stroke="#000" stroke-width="2.0"/>
<line x1="582.00" y1="345.70" x2="582.00" y2="349.20" stroke="#000" stroke-width="2.0"/>
<line x1="598.54" y1="345.70" x2="598.54" y2="349.20" stroke="#000" stroke-width="2.0"/>
<line x1="615.08" y1="345.70" x2="615.08" y2="349.20" stroke="#000" stroke-width="2.0"/>
<line x1="631.62" y1="345.70" x2="631.62" y2="349.20" stroke="#000" stroke-width="2.0"/>
<rect x="493.75" y="294.95" width="11.10" height="49.45" fill="#fff" stroke="#000" stroke-width="2.3"/>
<line x1="498.70" y1="281.60" x2="498.70" y2="293.80" stroke="#000" stroke-width="2.5"/>
<line x1="495.20" y1="281.60" x2="502.20" y2="281.60" stroke="#000" stroke-width="2.1"/>
<rect x="510.29" y="309.35" width="11.10" height="35.05" fill="#fff" stroke="#000" stroke-width="2.3"/>
<line x1="515.24" y1="300.40" x2="515.24" y2="308.20" stroke="#000" stroke-width="2.5"/>
<line x1="511.74" y1="300.40" x2="518.74" y2="300.40" stroke="#000" stroke-width="2.1"/>
<rect x="526.83" y="274.85" width="11.10" height="69.55" fill="#fff" stroke="#000" stroke-width="2.3"/>
<line x1="531.78" y1="259.60" x2="531.78" y2="273.70" stroke="#000" stroke-width="2.5"/>
<line x1="528.28" y1="259.60" x2="535.28" y2="259.60" stroke="#000" stroke-width="2.1"/>
<rect x="543.37" y="235.25" width="11.10" height="109.15" fill="#000" stroke="#000" stroke-width="2.3"/>
<line x1="548.32" y1="211.50" x2="548.32" y2="234.10" stroke="#000" stroke-width="2.5"/>
<line x1="544.82" y1="211.50" x2="551.82" y2="211.50" stroke="#000" stroke-width="2.1"/>
<rect x="559.91" y="291.75" width="11.10" height="52.65" fill="#000" stroke="#000" stroke-width="2.3"/>
<line x1="564.86" y1="281.00" x2="564.86" y2="290.60" stroke="#000" stroke-width="2.5"/>
<line x1="561.36" y1="281.00" x2="568.36" y2="281.00" stroke="#000" stroke-width="2.1"/>
<rect x="576.45" y="269.75" width="11.10" height="74.65" fill="#000" stroke="#000" stroke-width="2.3"/>
<line x1="581.40" y1="253.30" x2="581.40" y2="268.60" stroke="#000" stroke-width="2.5"/>
<line x1="577.90" y1="253.30" x2="584.90" y2="253.30" stroke="#000" stroke-width="2.1"/>
<rect x="592.99" y="271.35" width="11.10" height="73.05" fill="#666" stroke="#000" stroke-width="2.3"/>
<line x1="597.94" y1="257.00" x2="597.94" y2="270.20" stroke="#000" stroke-width="2.5"/>
<line x1="594.44" y1="257.00" x2="601.44" y2="257.00" stroke="#000" stroke-width="2.1"/>
<rect x="609.53" y="307.45" width="11.10" height="36.95" fill="#666" stroke="#000" stroke-width="2.3"/>
<line x1="614.48" y1="301.00" x2="614.48" y2="306.30" stroke="#000" stroke-width="2.5"/>
<line x1="610.98" y1="301.00" x2="617.98" y2="301.00" stroke="#000" stroke-width="2.1"/>
<rect x="626.07" y="270.75" width="11.10" height="73.65" fill="#666" stroke="#000" stroke-width="2.3"/>
<line x1="631.02" y1="257.40" x2="631.02" y2="269.60" stroke="#000" stroke-width="2.5"/>
<line x1="627.52" y1="257.40" x2="634.52" y2="257.40" stroke="#000" stroke-width="2.1"/>
<polyline points="548.40,202.90 565.10,202.90 565.10,252.90" fill="none" stroke="#6a6a6a" stroke-width="1.1"/>
<polygon points="554.70,207.45 555.38,209.07 557.13,209.21 555.79,210.36 556.20,212.06 554.70,211.15 553.20,212.06 553.61,210.36 552.27,209.21 554.02,209.07" fill="#000"/>
<text x="583.90" y="206.60" font-size="11.7" text-anchor="start" font-weight="normal" >HeLa-</text>
<text x="583.90" y="219.90" font-size="11.7" text-anchor="start" font-weight="normal" >RIPK3-</text>
<text x="583.90" y="233.60" font-size="11.7" text-anchor="start" font-weight="normal" >TRAF2</text>
<text x="621.90" y="236.30" font-size="9.5" text-anchor="start" font-weight="normal" >KO</text>
<line x1="490.60" y1="358.60" x2="490.60" y2="510.30" stroke="#000" stroke-width="2.6"/>
<line x1="489.30" y1="359.80" x2="642.00" y2="359.80" stroke="#000" stroke-width="2.4"/>
<line x1="640.60" y1="358.60" x2="640.60" y2="510.30" stroke="#000" stroke-width="2.8"/>
<line x1="486.30" y1="509.00" x2="642.00" y2="509.00" stroke="#000" stroke-width="2.6"/>
<line x1="486.30" y1="509.00" x2="490.30" y2="509.00" stroke="#000" stroke-width="1.9"/>
<text x="484.10" y="513.30" font-size="12" text-anchor="end" font-weight="normal" >0</text>
<line x1="486.30" y1="471.68" x2="490.30" y2="471.68" stroke="#000" stroke-width="1.9"/>
<text x="484.10" y="475.98" font-size="12" text-anchor="end" font-weight="normal" >2</text>
<line x1="486.30" y1="434.35" x2="490.30" y2="434.35" stroke="#000" stroke-width="1.9"/>
<text x="484.10" y="438.65" font-size="12" text-anchor="end" font-weight="normal" >4</text>
<line x1="486.30" y1="397.02" x2="490.30" y2="397.02" stroke="#000" stroke-width="1.9"/>
<text x="484.10" y="401.32" font-size="12" text-anchor="end" font-weight="normal" >6</text>
<line x1="486.30" y1="359.70" x2="490.30" y2="359.70" stroke="#000" stroke-width="1.9"/>
<text x="484.10" y="364.00" font-size="12" text-anchor="end" font-weight="normal" >8</text>
<line x1="499.30" y1="510.30" x2="499.30" y2="513.80" stroke="#000" stroke-width="2.0"/>
<line x1="515.84" y1="510.30" x2="515.84" y2="513.80" stroke="#000" stroke-width="2.0"/>
<line x1="532.38" y1="510.30" x2="532.38" y2="513.80" stroke="#000" stroke-width="2.0"/>
<line x1="548.92" y1="510.30" x2="548.92" y2="513.80" stroke="#000" stroke-width="2.0"/>
<line x1="565.46" y1="510.30" x2="565.46" y2="513.80" stroke="#000" stroke-width="2.0"/>
<line x1="582.00" y1="510.30" x2="582.00" y2="513.80" stroke="#000" stroke-width="2.0"/>
<line x1="598.54" y1="510.30" x2="598.54" y2="513.80" stroke="#000" stroke-width="2.0"/>
<line x1="615.08" y1="510.30" x2="615.08" y2="513.80" stroke="#000" stroke-width="2.0"/>
<line x1="631.62" y1="510.30" x2="631.62" y2="513.80" stroke="#000" stroke-width="2.0"/>
<rect x="493.75" y="467.45" width="11.10" height="41.55" fill="#fff" stroke="#000" stroke-width="2.3"/>
<line x1="498.70" y1="460.60" x2="498.70" y2="466.30" stroke="#000" stroke-width="2.5"/>
<line x1="495.20" y1="460.60" x2="502.20" y2="460.60" stroke="#000" stroke-width="2.1"/>
<rect x="510.29" y="474.85" width="11.10" height="34.15" fill="#fff" stroke="#000" stroke-width="2.3"/>
<line x1="515.24" y1="468.40" x2="515.24" y2="473.70" stroke="#000" stroke-width="2.5"/>
<line x1="511.74" y1="468.40" x2="518.74" y2="468.40" stroke="#000" stroke-width="2.1"/>
<rect x="526.83" y="452.55" width="11.10" height="56.45" fill="#fff" stroke="#000" stroke-width="2.3"/>
<line x1="531.78" y1="441.30" x2="531.78" y2="451.40" stroke="#000" stroke-width="2.5"/>
<line x1="528.28" y1="441.30" x2="535.28" y2="441.30" stroke="#000" stroke-width="2.1"/>
<rect x="543.37" y="378.25" width="11.10" height="130.75" fill="#000" stroke="#000" stroke-width="2.3"/>
<line x1="548.32" y1="366.30" x2="548.32" y2="377.10" stroke="#000" stroke-width="2.5"/>
<line x1="544.82" y1="366.30" x2="551.82" y2="366.30" stroke="#000" stroke-width="2.1"/>
<rect x="559.91" y="432.15" width="11.10" height="76.85" fill="#000" stroke="#000" stroke-width="2.3"/>
<line x1="564.86" y1="423.50" x2="564.86" y2="431.00" stroke="#000" stroke-width="2.5"/>
<line x1="561.36" y1="423.50" x2="568.36" y2="423.50" stroke="#000" stroke-width="2.1"/>
<rect x="576.45" y="434.75" width="11.10" height="74.25" fill="#000" stroke="#000" stroke-width="2.3"/>
<line x1="581.40" y1="425.30" x2="581.40" y2="433.60" stroke="#000" stroke-width="2.5"/>
<line x1="577.90" y1="425.30" x2="584.90" y2="425.30" stroke="#000" stroke-width="2.1"/>
<rect x="592.99" y="428.45" width="11.10" height="80.55" fill="#666" stroke="#000" stroke-width="2.3"/>
<line x1="597.94" y1="420.90" x2="597.94" y2="427.30" stroke="#000" stroke-width="2.5"/>
<line x1="594.44" y1="420.90" x2="601.44" y2="420.90" stroke="#000" stroke-width="2.1"/>
<rect x="609.53" y="467.45" width="11.10" height="41.55" fill="#666" stroke="#000" stroke-width="2.3"/>
<line x1="614.48" y1="462.50" x2="614.48" y2="466.30" stroke="#000" stroke-width="2.5"/>
<line x1="610.98" y1="462.50" x2="617.98" y2="462.50" stroke="#000" stroke-width="2.1"/>
<rect x="626.07" y="466.35" width="11.10" height="42.65" fill="#666" stroke="#000" stroke-width="2.3"/>
<line x1="631.02" y1="458.00" x2="631.02" y2="465.20" stroke="#000" stroke-width="2.5"/>
<line x1="627.52" y1="458.00" x2="634.52" y2="458.00" stroke="#000" stroke-width="2.1"/>
<polyline points="548.00,362.40 564.80,362.40 564.80,412.50" fill="none" stroke="#6a6a6a" stroke-width="1.1"/>
<polygon points="556.30,364.05 556.98,365.67 558.73,365.81 557.39,366.96 557.80,368.66 556.30,367.75 554.80,368.66 555.21,366.96 553.87,365.81 555.62,365.67" fill="#000"/>
<polyline points="548.00,361.20 580.10,361.20 580.10,412.50" fill="none" stroke="#6a6a6a" stroke-width="1.1"/>
<polygon points="572.40,361.85 573.08,363.47 574.83,363.61 573.49,364.76 573.90,366.46 572.40,365.55 570.90,366.46 571.31,364.76 569.97,363.61 571.72,363.47" fill="#000"/>
<polyline points="597.60,408.60 630.30,408.60 630.30,451.40" fill="none" stroke="#6a6a6a" stroke-width="1.1"/>
<polygon points="615.10,403.05 615.78,404.67 617.53,404.81 616.19,405.96 616.60,407.66 615.10,406.75 613.60,407.66 614.01,405.96 612.67,404.81 614.42,404.67" fill="#000"/>
<polyline points="597.60,416.10 612.90,416.10 612.90,458.10" fill="none" stroke="#6a6a6a" stroke-width="1.1"/>
<polygon points="605.60,410.65 606.28,412.27 608.03,412.41 606.69,413.56 607.10,415.26 605.60,414.35 604.10,415.26 604.51,413.56 603.17,412.41 604.92,412.27" fill="#000"/>
<text x="583.40" y="372.40" font-size="11.7" text-anchor="start" font-weight="normal" >HT29-</text>
<text x="583.40" y="385.50" font-size="11.7" text-anchor="start" font-weight="normal" >TRAF2</text>
<text x="622.80" y="390.20" font-size="9.3" text-anchor="start" font-weight="normal" >KO</text>
<text transform="translate(462.60,104.85) rotate(-90)" font-size="15.6" text-anchor="middle">IL8 (ng/ml)</text>
<text transform="translate(462.60,268.90) rotate(-90)" font-size="15.6" text-anchor="middle">IL8 (ng/ml)</text>
<text transform="translate(462.60,442.00) rotate(-90)" font-size="15.6" text-anchor="middle">IL8 (ng/ml)</text>
<text x="497.30" y="522.80" font-size="11.8" text-anchor="middle" font-weight="normal" >-</text>
<text x="514.07" y="522.80" font-size="11.8" text-anchor="middle" font-weight="normal" >-</text>
<text x="530.84" y="522.80" font-size="11.8" text-anchor="middle" font-weight="normal" >+</text>
<text x="547.61" y="522.80" font-size="11.8" text-anchor="middle" font-weight="normal" >-</text>
<text x="564.38" y="522.80" font-size="11.8" text-anchor="middle" font-weight="normal" >-</text>
<text x="581.15" y="522.80" font-size="11.8" text-anchor="middle" font-weight="normal" >+</text>
<text x="597.92" y="522.80" font-size="11.8" text-anchor="middle" font-weight="normal" >-</text>
<text x="614.69" y="522.80" font-size="11.8" text-anchor="middle" font-weight="normal" >-</text>
<text x="631.46" y="522.80" font-size="11.8" text-anchor="middle" font-weight="normal" >+</text>
<text x="645.20" y="522.80" font-size="11.8" text-anchor="start" font-weight="normal" >MLN4924</text>
<text x="497.30" y="534.70" font-size="11.8" text-anchor="middle" font-weight="normal" >-</text>
<text x="514.07" y="534.70" font-size="11.8" text-anchor="middle" font-weight="normal" >+</text>
<text x="530.84" y="534.70" font-size="11.8" text-anchor="middle" font-weight="normal" >-</text>
<text x="547.61" y="534.70" font-size="11.8" text-anchor="middle" font-weight="normal" >-</text>
<text x="564.38" y="534.70" font-size="11.8" text-anchor="middle" font-weight="normal" >+</text>
<text x="581.15" y="534.70" font-size="11.8" text-anchor="middle" font-weight="normal" >-</text>
<text x="597.92" y="534.70" font-size="11.8" text-anchor="middle" font-weight="normal" >-</text>
<text x="614.69" y="534.70" font-size="11.8" text-anchor="middle" font-weight="normal" >+</text>
<text x="631.46" y="534.70" font-size="11.8" text-anchor="middle" font-weight="normal" >-</text>
<text x="645.20" y="534.70" font-size="11.8" text-anchor="start" font-weight="normal" >TPCA1</text>
<text x="497.30" y="546.80" font-size="11.8" text-anchor="middle" font-weight="normal" >-</text>
<text x="514.07" y="546.80" font-size="11.8" text-anchor="middle" font-weight="normal" >-</text>
<text x="530.84" y="546.80" font-size="11.8" text-anchor="middle" font-weight="normal" >-</text>
<text x="547.61" y="546.80" font-size="11.8" text-anchor="middle" font-weight="normal" >+</text>
<text x="564.38" y="546.80" font-size="11.8" text-anchor="middle" font-weight="normal" >+</text>
<text x="581.15" y="546.80" font-size="11.8" text-anchor="middle" font-weight="normal" >+</text>
<text x="597.92" y="546.80" font-size="11.8" text-anchor="middle" font-weight="normal" >-</text>
<text x="614.69" y="546.80" font-size="11.8" text-anchor="middle" font-weight="normal" >-</text>
<text x="631.46" y="546.80" font-size="11.8" text-anchor="middle" font-weight="normal" >-</text>
<text x="645.20" y="546.80" font-size="11.8" text-anchor="start" font-weight="normal" >TNF</text>
<text x="497.30" y="560.70" font-size="11.8" text-anchor="middle" font-weight="normal" >-</text>
<text x="514.07" y="560.70" font-size="11.8" text-anchor="middle" font-weight="normal" >-</text>
<text x="530.84" y="560.70" font-size="11.8" text-anchor="middle" font-weight="normal" >-</text>
<text x="547.61" y="560.70" font-size="11.8" text-anchor="middle" font-weight="normal" >-</text>
<text x="564.38" y="560.70" font-size="11.8" text-anchor="middle" font-weight="normal" >-</text>
<text x="581.15" y="560.70" font-size="11.8" text-anchor="middle" font-weight="normal" >-</text>
<text x="597.92" y="560.70" font-size="11.8" text-anchor="middle" font-weight="normal" >+</text>
<text x="614.69" y="560.70" font-size="11.8" text-anchor="middle" font-weight="normal" >+</text>
<text x="631.46" y="560.70" font-size="11.8" text-anchor="middle" font-weight="normal" >+</text>
<text x="645.20" y="560.70" font-size="11.8" text-anchor="start" font-weight="normal" >Fc-CD95L</text>
</svg></body></html>
